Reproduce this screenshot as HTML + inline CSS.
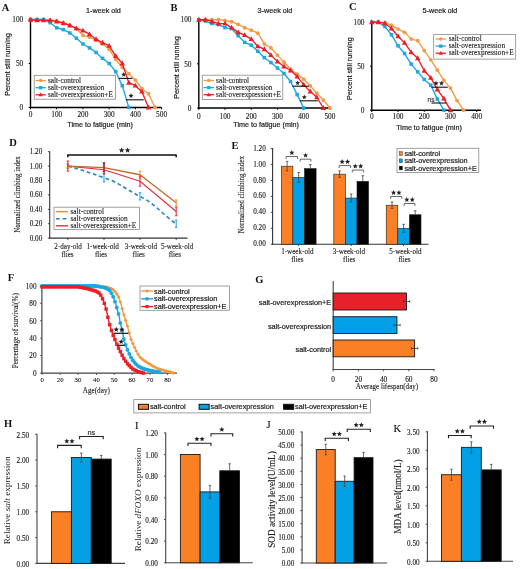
<!DOCTYPE html>
<html><head><meta charset="utf-8"><title>Figure</title>
<style>
html,body{margin:0;padding:0;background:#fff;}
body{width:520px;height:569px;overflow:hidden;font-family:"Liberation Sans", sans-serif;}
svg{display:block;filter:blur(0.35px);}

</style></head>
<body>
<svg width="520" height="569" viewBox="0 0 520 569">
<rect width="520" height="569" fill="#fff"/>
<text x="1.80" y="7.20" font-size="10.50" font-family='"Liberation Serif", serif' text-anchor="start" dominant-baseline="central" font-weight="bold" fill="#111">A</text>
<line x1="30.50" y1="18.00" x2="30.50" y2="108.10" stroke="#000" stroke-width="1.4"/>
<line x1="29.90" y1="107.50" x2="161.50" y2="107.50" stroke="#000" stroke-width="1.4"/>
<line x1="30.50" y1="107.50" x2="30.50" y2="109.30" stroke="#000" stroke-width="1"/>
<text x="30.50" y="114.20" font-size="7.30" font-family='"Liberation Serif", serif' text-anchor="middle" dominant-baseline="central" font-weight="normal" fill="#1a1a1a" stroke="#1a1a1a" stroke-width="0.12">0</text>
<line x1="56.72" y1="107.50" x2="56.72" y2="109.30" stroke="#000" stroke-width="1"/>
<text x="56.72" y="114.20" font-size="7.30" font-family='"Liberation Serif", serif' text-anchor="middle" dominant-baseline="central" font-weight="normal" fill="#1a1a1a" stroke="#1a1a1a" stroke-width="0.12">100</text>
<line x1="82.94" y1="107.50" x2="82.94" y2="109.30" stroke="#000" stroke-width="1"/>
<text x="82.94" y="114.20" font-size="7.30" font-family='"Liberation Serif", serif' text-anchor="middle" dominant-baseline="central" font-weight="normal" fill="#1a1a1a" stroke="#1a1a1a" stroke-width="0.12">200</text>
<line x1="109.16" y1="107.50" x2="109.16" y2="109.30" stroke="#000" stroke-width="1"/>
<text x="109.16" y="114.20" font-size="7.30" font-family='"Liberation Serif", serif' text-anchor="middle" dominant-baseline="central" font-weight="normal" fill="#1a1a1a" stroke="#1a1a1a" stroke-width="0.12">300</text>
<line x1="135.38" y1="107.50" x2="135.38" y2="109.30" stroke="#000" stroke-width="1"/>
<text x="135.38" y="114.20" font-size="7.30" font-family='"Liberation Serif", serif' text-anchor="middle" dominant-baseline="central" font-weight="normal" fill="#1a1a1a" stroke="#1a1a1a" stroke-width="0.12">400</text>
<line x1="161.60" y1="107.50" x2="161.60" y2="109.30" stroke="#000" stroke-width="1"/>
<text x="161.60" y="114.20" font-size="7.30" font-family='"Liberation Serif", serif' text-anchor="middle" dominant-baseline="central" font-weight="normal" fill="#1a1a1a" stroke="#1a1a1a" stroke-width="0.12">500</text>
<line x1="28.70" y1="107.50" x2="30.50" y2="107.50" stroke="#000" stroke-width="1"/>
<text x="23.20" y="107.75" font-size="7.30" font-family='"Liberation Serif", serif' text-anchor="end" dominant-baseline="central" font-weight="normal" fill="#1a1a1a" stroke="#1a1a1a" stroke-width="0.12">0</text>
<line x1="28.70" y1="63.50" x2="30.50" y2="63.50" stroke="#000" stroke-width="1"/>
<text x="23.20" y="63.75" font-size="7.30" font-family='"Liberation Serif", serif' text-anchor="end" dominant-baseline="central" font-weight="normal" fill="#1a1a1a" stroke="#1a1a1a" stroke-width="0.12">50</text>
<line x1="28.70" y1="19.50" x2="30.50" y2="19.50" stroke="#000" stroke-width="1"/>
<text x="23.20" y="19.75" font-size="7.30" font-family='"Liberation Serif", serif' text-anchor="end" dominant-baseline="central" font-weight="normal" fill="#1a1a1a" stroke="#1a1a1a" stroke-width="0.12">100</text>
<polyline points="30.50,19.50 37.05,19.50 43.61,19.50 50.16,19.94 56.72,20.82 63.27,22.58 69.83,25.22 76.38,28.74 82.94,35.34 89.50,37.10 96.05,40.27 102.60,43.88 109.16,49.33 115.72,59.36 122.27,67.46 128.82,73.62 135.38,80.22 141.94,88.67 148.49,93.77 155.04,107.50" fill="none" stroke="#f39a45" stroke-width="1.35" stroke-linejoin="round"/>
<circle cx="30.50" cy="19.50" r="1.9" fill="#f39a45"/>
<circle cx="37.05" cy="19.50" r="1.9" fill="#f39a45"/>
<circle cx="43.61" cy="19.50" r="1.9" fill="#f39a45"/>
<circle cx="50.16" cy="19.94" r="1.9" fill="#f39a45"/>
<circle cx="56.72" cy="20.82" r="1.9" fill="#f39a45"/>
<circle cx="63.27" cy="22.58" r="1.9" fill="#f39a45"/>
<circle cx="69.83" cy="25.22" r="1.9" fill="#f39a45"/>
<circle cx="76.38" cy="28.74" r="1.9" fill="#f39a45"/>
<circle cx="82.94" cy="35.34" r="1.9" fill="#f39a45"/>
<circle cx="89.50" cy="37.10" r="1.9" fill="#f39a45"/>
<circle cx="96.05" cy="40.27" r="1.9" fill="#f39a45"/>
<circle cx="102.60" cy="43.88" r="1.9" fill="#f39a45"/>
<circle cx="109.16" cy="49.33" r="1.9" fill="#f39a45"/>
<circle cx="115.72" cy="59.36" r="1.9" fill="#f39a45"/>
<circle cx="122.27" cy="67.46" r="1.9" fill="#f39a45"/>
<circle cx="128.82" cy="73.62" r="1.9" fill="#f39a45"/>
<circle cx="135.38" cy="80.22" r="1.9" fill="#f39a45"/>
<circle cx="141.94" cy="88.67" r="1.9" fill="#f39a45"/>
<circle cx="148.49" cy="93.77" r="1.9" fill="#f39a45"/>
<circle cx="155.04" cy="107.50" r="1.9" fill="#f39a45"/>
<polyline points="30.50,19.50 37.05,19.50 43.61,19.50 50.16,22.67 56.72,27.77 63.27,29.62 69.83,32.96 76.38,38.20 82.94,43.96 89.50,47.92 96.05,52.41 102.60,58.40 109.16,63.50 115.72,71.60 122.27,85.68 128.82,107.50" fill="none" stroke="#1aa7e2" stroke-width="1.35" stroke-linejoin="round"/>
<rect x="28.75" y="17.75" width="3.5" height="3.5" fill="#1aa7e2"/>
<rect x="35.30" y="17.75" width="3.5" height="3.5" fill="#1aa7e2"/>
<rect x="41.86" y="17.75" width="3.5" height="3.5" fill="#1aa7e2"/>
<rect x="48.41" y="20.92" width="3.5" height="3.5" fill="#1aa7e2"/>
<rect x="54.97" y="26.02" width="3.5" height="3.5" fill="#1aa7e2"/>
<rect x="61.52" y="27.87" width="3.5" height="3.5" fill="#1aa7e2"/>
<rect x="68.08" y="31.21" width="3.5" height="3.5" fill="#1aa7e2"/>
<rect x="74.63" y="36.45" width="3.5" height="3.5" fill="#1aa7e2"/>
<rect x="81.19" y="42.21" width="3.5" height="3.5" fill="#1aa7e2"/>
<rect x="87.75" y="46.17" width="3.5" height="3.5" fill="#1aa7e2"/>
<rect x="94.30" y="50.66" width="3.5" height="3.5" fill="#1aa7e2"/>
<rect x="100.85" y="56.65" width="3.5" height="3.5" fill="#1aa7e2"/>
<rect x="107.41" y="61.75" width="3.5" height="3.5" fill="#1aa7e2"/>
<rect x="113.97" y="69.85" width="3.5" height="3.5" fill="#1aa7e2"/>
<rect x="120.52" y="83.93" width="3.5" height="3.5" fill="#1aa7e2"/>
<rect x="127.07" y="105.75" width="3.5" height="3.5" fill="#1aa7e2"/>
<polyline points="30.50,19.76 37.05,20.38 43.61,20.38 50.16,20.38 56.72,21.52 63.27,23.20 69.83,25.48 76.38,28.39 82.94,30.68 89.50,34.20 96.05,39.21 102.60,42.73 109.16,45.90 115.72,56.02 122.27,63.50 128.82,82.68 135.38,85.68 141.94,91.66 148.49,107.50" fill="none" stroke="#ee1c24" stroke-width="1.35" stroke-linejoin="round"/>
<polygon points="30.50,16.85 27.80,21.71 33.20,21.71" fill="#ee1c24"/>
<polygon points="37.05,17.46 34.35,22.32 39.76,22.32" fill="#ee1c24"/>
<polygon points="43.61,17.46 40.91,22.32 46.31,22.32" fill="#ee1c24"/>
<polygon points="50.16,17.46 47.46,22.32 52.87,22.32" fill="#ee1c24"/>
<polygon points="56.72,18.61 54.02,23.47 59.42,23.47" fill="#ee1c24"/>
<polygon points="63.27,20.28 60.57,25.14 65.97,25.14" fill="#ee1c24"/>
<polygon points="69.83,22.57 67.13,27.43 72.53,27.43" fill="#ee1c24"/>
<polygon points="76.38,25.47 73.68,30.33 79.08,30.33" fill="#ee1c24"/>
<polygon points="82.94,27.76 80.24,32.62 85.64,32.62" fill="#ee1c24"/>
<polygon points="89.50,31.28 86.80,36.14 92.20,36.14" fill="#ee1c24"/>
<polygon points="96.05,36.30 93.35,41.16 98.75,41.16" fill="#ee1c24"/>
<polygon points="102.60,39.82 99.90,44.68 105.30,44.68" fill="#ee1c24"/>
<polygon points="109.16,42.98 106.46,47.84 111.86,47.84" fill="#ee1c24"/>
<polygon points="115.72,53.10 113.02,57.96 118.42,57.96" fill="#ee1c24"/>
<polygon points="122.27,60.58 119.57,65.44 124.97,65.44" fill="#ee1c24"/>
<polygon points="128.82,79.77 126.12,84.63 131.52,84.63" fill="#ee1c24"/>
<polygon points="135.38,82.76 132.68,87.62 138.08,87.62" fill="#ee1c24"/>
<polygon points="141.94,88.74 139.24,93.60 144.63,93.60" fill="#ee1c24"/>
<polygon points="148.49,104.58 145.79,109.44 151.19,109.44" fill="#ee1c24"/>
<text x="103.50" y="10.50" font-size="7.20" font-family='"Liberation Sans", sans-serif' text-anchor="middle" dominant-baseline="central" font-weight="normal" fill="#222" stroke="#222" stroke-width="0.2">1-week old</text>
<text x="7.60" y="64.50" font-size="7.15" font-family='"Liberation Sans", sans-serif' text-anchor="middle" dominant-baseline="central" font-weight="normal" fill="#222" stroke="#222" stroke-width="0.2" transform="rotate(-90 7.6 64.5)">Percent still running</text>
<text x="100.10" y="124.00" font-size="7.20" font-family='"Liberation Sans", sans-serif' text-anchor="middle" dominant-baseline="central" font-weight="normal" fill="#222" stroke="#222" stroke-width="0.2">Time to fatigue (min)</text>
<rect x="34.20" y="75.30" width="81.40" height="23.90" fill="#fff" stroke="#8a8a8a" stroke-width="0.8"/>
<line x1="35.50" y1="80.60" x2="45.90" y2="80.60" stroke="#f39a45" stroke-width="1.3"/>
<circle cx="40.70" cy="80.60" r="1.75" fill="#f39a45"/>
<text x="48.00" y="80.60" font-size="7.25" font-family='"Liberation Serif", serif' text-anchor="start" dominant-baseline="central" font-weight="normal" fill="#222" stroke="#222" stroke-width="0.12">salt-control</text>
<line x1="35.50" y1="87.70" x2="45.90" y2="87.70" stroke="#1aa7e2" stroke-width="1.3"/>
<rect x="39.05" y="86.05" width="3.3" height="3.3" fill="#1aa7e2"/>
<text x="48.00" y="87.70" font-size="7.25" font-family='"Liberation Serif", serif' text-anchor="start" dominant-baseline="central" font-weight="normal" fill="#222" stroke="#222" stroke-width="0.12">salt-overexpression</text>
<line x1="35.50" y1="94.80" x2="45.90" y2="94.80" stroke="#ee1c24" stroke-width="1.3"/>
<polygon points="40.70,92.48 38.55,96.35 42.85,96.35" fill="#ee1c24"/>
<text x="48.00" y="94.80" font-size="7.25" font-family='"Liberation Serif", serif' text-anchor="start" dominant-baseline="central" font-weight="normal" fill="#222" stroke="#222" stroke-width="0.12">salt-overexpression+E</text>
<line x1="118.60" y1="78.40" x2="132.40" y2="78.40" stroke="#111" stroke-width="1.1"/>
<polygon points="123.70,72.00 124.39,73.65 126.17,73.80 124.81,74.96 125.23,76.70 123.70,75.77 122.17,76.70 122.59,74.96 121.23,73.80 123.01,73.65" fill="#222"/>
<line x1="126.00" y1="99.80" x2="143.70" y2="99.80" stroke="#111" stroke-width="1.1"/>
<polygon points="131.00,93.20 131.69,94.85 133.47,95.00 132.11,96.16 132.53,97.90 131.00,96.97 129.47,97.90 129.89,96.16 128.53,95.00 130.31,94.85" fill="#222"/>
<text x="170.50" y="7.50" font-size="10.50" font-family='"Liberation Serif", serif' text-anchor="start" dominant-baseline="central" font-weight="bold" fill="#111">B</text>
<line x1="198.80" y1="18.20" x2="198.80" y2="108.60" stroke="#000" stroke-width="1.4"/>
<line x1="198.20" y1="108.00" x2="330.00" y2="108.00" stroke="#000" stroke-width="1.4"/>
<line x1="198.80" y1="108.00" x2="198.80" y2="109.80" stroke="#000" stroke-width="1"/>
<text x="198.80" y="116.00" font-size="7.30" font-family='"Liberation Serif", serif' text-anchor="middle" dominant-baseline="central" font-weight="normal" fill="#1a1a1a" stroke="#1a1a1a" stroke-width="0.12">0</text>
<line x1="225.02" y1="108.00" x2="225.02" y2="109.80" stroke="#000" stroke-width="1"/>
<text x="225.02" y="116.00" font-size="7.30" font-family='"Liberation Serif", serif' text-anchor="middle" dominant-baseline="central" font-weight="normal" fill="#1a1a1a" stroke="#1a1a1a" stroke-width="0.12">100</text>
<line x1="251.24" y1="108.00" x2="251.24" y2="109.80" stroke="#000" stroke-width="1"/>
<text x="251.24" y="116.00" font-size="7.30" font-family='"Liberation Serif", serif' text-anchor="middle" dominant-baseline="central" font-weight="normal" fill="#1a1a1a" stroke="#1a1a1a" stroke-width="0.12">200</text>
<line x1="277.46" y1="108.00" x2="277.46" y2="109.80" stroke="#000" stroke-width="1"/>
<text x="277.46" y="116.00" font-size="7.30" font-family='"Liberation Serif", serif' text-anchor="middle" dominant-baseline="central" font-weight="normal" fill="#1a1a1a" stroke="#1a1a1a" stroke-width="0.12">300</text>
<line x1="303.68" y1="108.00" x2="303.68" y2="109.80" stroke="#000" stroke-width="1"/>
<text x="303.68" y="116.00" font-size="7.30" font-family='"Liberation Serif", serif' text-anchor="middle" dominant-baseline="central" font-weight="normal" fill="#1a1a1a" stroke="#1a1a1a" stroke-width="0.12">400</text>
<line x1="329.90" y1="108.00" x2="329.90" y2="109.80" stroke="#000" stroke-width="1"/>
<text x="329.90" y="116.00" font-size="7.30" font-family='"Liberation Serif", serif' text-anchor="middle" dominant-baseline="central" font-weight="normal" fill="#1a1a1a" stroke="#1a1a1a" stroke-width="0.12">500</text>
<line x1="197.00" y1="108.00" x2="198.80" y2="108.00" stroke="#000" stroke-width="1"/>
<text x="191.50" y="108.25" font-size="7.30" font-family='"Liberation Serif", serif' text-anchor="end" dominant-baseline="central" font-weight="normal" fill="#1a1a1a" stroke="#1a1a1a" stroke-width="0.12">0</text>
<line x1="197.00" y1="63.85" x2="198.80" y2="63.85" stroke="#000" stroke-width="1"/>
<text x="191.50" y="64.10" font-size="7.30" font-family='"Liberation Serif", serif' text-anchor="end" dominant-baseline="central" font-weight="normal" fill="#1a1a1a" stroke="#1a1a1a" stroke-width="0.12">50</text>
<line x1="197.00" y1="19.70" x2="198.80" y2="19.70" stroke="#000" stroke-width="1"/>
<text x="191.50" y="19.95" font-size="7.30" font-family='"Liberation Serif", serif' text-anchor="end" dominant-baseline="central" font-weight="normal" fill="#1a1a1a" stroke="#1a1a1a" stroke-width="0.12">100</text>
<polyline points="198.80,19.70 205.36,19.70 211.91,19.70 218.47,19.70 225.02,20.49 231.58,21.73 238.13,24.47 244.69,27.74 251.24,30.21 257.80,33.21 264.35,43.89 270.90,47.96 277.46,55.11 284.01,62.26 290.57,69.24 297.12,74.18 303.68,79.21 310.24,85.84 316.79,93.08 323.35,100.05 329.90,108.00" fill="none" stroke="#f39a45" stroke-width="1.35" stroke-linejoin="round"/>
<circle cx="198.80" cy="19.70" r="1.9" fill="#f39a45"/>
<circle cx="205.36" cy="19.70" r="1.9" fill="#f39a45"/>
<circle cx="211.91" cy="19.70" r="1.9" fill="#f39a45"/>
<circle cx="218.47" cy="19.70" r="1.9" fill="#f39a45"/>
<circle cx="225.02" cy="20.49" r="1.9" fill="#f39a45"/>
<circle cx="231.58" cy="21.73" r="1.9" fill="#f39a45"/>
<circle cx="238.13" cy="24.47" r="1.9" fill="#f39a45"/>
<circle cx="244.69" cy="27.74" r="1.9" fill="#f39a45"/>
<circle cx="251.24" cy="30.21" r="1.9" fill="#f39a45"/>
<circle cx="257.80" cy="33.21" r="1.9" fill="#f39a45"/>
<circle cx="264.35" cy="43.89" r="1.9" fill="#f39a45"/>
<circle cx="270.90" cy="47.96" r="1.9" fill="#f39a45"/>
<circle cx="277.46" cy="55.11" r="1.9" fill="#f39a45"/>
<circle cx="284.01" cy="62.26" r="1.9" fill="#f39a45"/>
<circle cx="290.57" cy="69.24" r="1.9" fill="#f39a45"/>
<circle cx="297.12" cy="74.18" r="1.9" fill="#f39a45"/>
<circle cx="303.68" cy="79.21" r="1.9" fill="#f39a45"/>
<circle cx="310.24" cy="85.84" r="1.9" fill="#f39a45"/>
<circle cx="316.79" cy="93.08" r="1.9" fill="#f39a45"/>
<circle cx="323.35" cy="100.05" r="1.9" fill="#f39a45"/>
<circle cx="329.90" cy="108.00" r="1.9" fill="#f39a45"/>
<polyline points="198.80,19.70 205.36,21.11 211.91,23.59 218.47,24.56 225.02,27.65 231.58,28.62 238.13,35.68 244.69,42.39 251.24,45.22 257.80,51.31 264.35,57.67 270.90,62.53 277.46,68.00 284.01,73.47 290.57,81.51 297.12,94.58 303.68,108.00" fill="none" stroke="#1aa7e2" stroke-width="1.35" stroke-linejoin="round"/>
<rect x="197.05" y="17.95" width="3.5" height="3.5" fill="#1aa7e2"/>
<rect x="203.61" y="19.36" width="3.5" height="3.5" fill="#1aa7e2"/>
<rect x="210.16" y="21.84" width="3.5" height="3.5" fill="#1aa7e2"/>
<rect x="216.72" y="22.81" width="3.5" height="3.5" fill="#1aa7e2"/>
<rect x="223.27" y="25.90" width="3.5" height="3.5" fill="#1aa7e2"/>
<rect x="229.83" y="26.87" width="3.5" height="3.5" fill="#1aa7e2"/>
<rect x="236.38" y="33.93" width="3.5" height="3.5" fill="#1aa7e2"/>
<rect x="242.94" y="40.64" width="3.5" height="3.5" fill="#1aa7e2"/>
<rect x="249.49" y="43.47" width="3.5" height="3.5" fill="#1aa7e2"/>
<rect x="256.05" y="49.56" width="3.5" height="3.5" fill="#1aa7e2"/>
<rect x="262.60" y="55.92" width="3.5" height="3.5" fill="#1aa7e2"/>
<rect x="269.15" y="60.78" width="3.5" height="3.5" fill="#1aa7e2"/>
<rect x="275.71" y="66.25" width="3.5" height="3.5" fill="#1aa7e2"/>
<rect x="282.26" y="71.72" width="3.5" height="3.5" fill="#1aa7e2"/>
<rect x="288.82" y="79.76" width="3.5" height="3.5" fill="#1aa7e2"/>
<rect x="295.38" y="92.83" width="3.5" height="3.5" fill="#1aa7e2"/>
<rect x="301.93" y="106.25" width="3.5" height="3.5" fill="#1aa7e2"/>
<polyline points="198.80,19.70 205.36,19.70 211.91,21.47 218.47,23.59 225.02,23.59 231.58,27.65 238.13,32.33 244.69,35.06 251.24,39.13 257.80,46.37 264.35,49.19 270.90,55.11 277.46,61.47 284.01,66.50 290.57,70.47 297.12,76.57 303.68,84.60 310.24,91.49 316.79,97.23 323.35,108.00" fill="none" stroke="#ee1c24" stroke-width="1.35" stroke-linejoin="round"/>
<polygon points="198.80,16.78 196.10,21.64 201.50,21.64" fill="#ee1c24"/>
<polygon points="205.36,16.78 202.66,21.64 208.06,21.64" fill="#ee1c24"/>
<polygon points="211.91,18.55 209.21,23.41 214.61,23.41" fill="#ee1c24"/>
<polygon points="218.47,20.67 215.77,25.53 221.16,25.53" fill="#ee1c24"/>
<polygon points="225.02,20.67 222.32,25.53 227.72,25.53" fill="#ee1c24"/>
<polygon points="231.58,24.73 228.88,29.59 234.28,29.59" fill="#ee1c24"/>
<polygon points="238.13,29.41 235.43,34.27 240.83,34.27" fill="#ee1c24"/>
<polygon points="244.69,32.15 241.99,37.01 247.38,37.01" fill="#ee1c24"/>
<polygon points="251.24,36.21 248.54,41.07 253.94,41.07" fill="#ee1c24"/>
<polygon points="257.80,43.45 255.10,48.31 260.50,48.31" fill="#ee1c24"/>
<polygon points="264.35,46.28 261.65,51.14 267.05,51.14" fill="#ee1c24"/>
<polygon points="270.90,52.19 268.20,57.05 273.60,57.05" fill="#ee1c24"/>
<polygon points="277.46,58.55 274.76,63.41 280.16,63.41" fill="#ee1c24"/>
<polygon points="284.01,63.58 281.31,68.44 286.71,68.44" fill="#ee1c24"/>
<polygon points="290.57,67.56 287.87,72.42 293.27,72.42" fill="#ee1c24"/>
<polygon points="297.12,73.65 294.43,78.51 299.82,78.51" fill="#ee1c24"/>
<polygon points="303.68,81.68 300.98,86.54 306.38,86.54" fill="#ee1c24"/>
<polygon points="310.24,88.57 307.54,93.43 312.94,93.43" fill="#ee1c24"/>
<polygon points="316.79,94.31 314.09,99.17 319.49,99.17" fill="#ee1c24"/>
<polygon points="323.35,105.08 320.65,109.94 326.05,109.94" fill="#ee1c24"/>
<text x="275.00" y="10.50" font-size="7.20" font-family='"Liberation Sans", sans-serif' text-anchor="middle" dominant-baseline="central" font-weight="normal" fill="#222" stroke="#222" stroke-width="0.2">3-week old</text>
<text x="176.60" y="67.40" font-size="7.15" font-family='"Liberation Sans", sans-serif' text-anchor="middle" dominant-baseline="central" font-weight="normal" fill="#222" stroke="#222" stroke-width="0.2" transform="rotate(-90 176.6 67.4)">Percent still running</text>
<text x="266.10" y="124.80" font-size="7.20" font-family='"Liberation Sans", sans-serif' text-anchor="middle" dominant-baseline="central" font-weight="normal" fill="#222" stroke="#222" stroke-width="0.2">Time to fatigue (min)</text>
<rect x="202.30" y="75.20" width="80.50" height="24.20" fill="#fff" stroke="#8a8a8a" stroke-width="0.8"/>
<line x1="203.60" y1="80.50" x2="214.00" y2="80.50" stroke="#f39a45" stroke-width="1.3"/>
<circle cx="208.80" cy="80.50" r="1.75" fill="#f39a45"/>
<text x="216.10" y="80.50" font-size="7.25" font-family='"Liberation Serif", serif' text-anchor="start" dominant-baseline="central" font-weight="normal" fill="#222" stroke="#222" stroke-width="0.12">salt-control</text>
<line x1="203.60" y1="87.60" x2="214.00" y2="87.60" stroke="#1aa7e2" stroke-width="1.3"/>
<rect x="207.15" y="85.95" width="3.3" height="3.3" fill="#1aa7e2"/>
<text x="216.10" y="87.60" font-size="7.25" font-family='"Liberation Serif", serif' text-anchor="start" dominant-baseline="central" font-weight="normal" fill="#222" stroke="#222" stroke-width="0.12">salt-overexpression</text>
<line x1="203.60" y1="94.70" x2="214.00" y2="94.70" stroke="#ee1c24" stroke-width="1.3"/>
<polygon points="208.80,92.38 206.65,96.25 210.95,96.25" fill="#ee1c24"/>
<text x="216.10" y="94.70" font-size="7.25" font-family='"Liberation Serif", serif' text-anchor="start" dominant-baseline="central" font-weight="normal" fill="#222" stroke="#222" stroke-width="0.12">salt-overexpression+E</text>
<line x1="292.30" y1="86.20" x2="309.00" y2="86.20" stroke="#111" stroke-width="1.1"/>
<polygon points="297.70,80.40 298.39,82.05 300.17,82.20 298.81,83.36 299.23,85.10 297.70,84.17 296.17,85.10 296.59,83.36 295.23,82.20 297.01,82.05" fill="#222"/>
<line x1="300.00" y1="100.80" x2="317.70" y2="100.80" stroke="#111" stroke-width="1.1"/>
<polygon points="304.30,94.60 304.99,96.25 306.77,96.40 305.41,97.56 305.83,99.30 304.30,98.37 302.77,99.30 303.19,97.56 301.83,96.40 303.61,96.25" fill="#222"/>
<text x="349.00" y="6.50" font-size="10.50" font-family='"Liberation Serif", serif' text-anchor="start" dominant-baseline="central" font-weight="bold" fill="#111">C</text>
<line x1="371.80" y1="20.70" x2="371.80" y2="110.80" stroke="#000" stroke-width="1.4"/>
<line x1="371.20" y1="110.20" x2="481.00" y2="110.20" stroke="#000" stroke-width="1.4"/>
<line x1="371.80" y1="110.20" x2="371.80" y2="112.00" stroke="#000" stroke-width="1"/>
<text x="371.80" y="116.90" font-size="7.30" font-family='"Liberation Serif", serif' text-anchor="middle" dominant-baseline="central" font-weight="normal" fill="#1a1a1a" stroke="#1a1a1a" stroke-width="0.12">0</text>
<line x1="398.02" y1="110.20" x2="398.02" y2="112.00" stroke="#000" stroke-width="1"/>
<text x="398.02" y="116.90" font-size="7.30" font-family='"Liberation Serif", serif' text-anchor="middle" dominant-baseline="central" font-weight="normal" fill="#1a1a1a" stroke="#1a1a1a" stroke-width="0.12">100</text>
<line x1="424.24" y1="110.20" x2="424.24" y2="112.00" stroke="#000" stroke-width="1"/>
<text x="424.24" y="116.90" font-size="7.30" font-family='"Liberation Serif", serif' text-anchor="middle" dominant-baseline="central" font-weight="normal" fill="#1a1a1a" stroke="#1a1a1a" stroke-width="0.12">200</text>
<line x1="450.46" y1="110.20" x2="450.46" y2="112.00" stroke="#000" stroke-width="1"/>
<text x="450.46" y="116.90" font-size="7.30" font-family='"Liberation Serif", serif' text-anchor="middle" dominant-baseline="central" font-weight="normal" fill="#1a1a1a" stroke="#1a1a1a" stroke-width="0.12">300</text>
<line x1="476.68" y1="110.20" x2="476.68" y2="112.00" stroke="#000" stroke-width="1"/>
<text x="476.68" y="116.90" font-size="7.30" font-family='"Liberation Serif", serif' text-anchor="middle" dominant-baseline="central" font-weight="normal" fill="#1a1a1a" stroke="#1a1a1a" stroke-width="0.12">400</text>
<line x1="370.00" y1="110.20" x2="371.80" y2="110.20" stroke="#000" stroke-width="1"/>
<text x="364.50" y="110.45" font-size="7.30" font-family='"Liberation Serif", serif' text-anchor="end" dominant-baseline="central" font-weight="normal" fill="#1a1a1a" stroke="#1a1a1a" stroke-width="0.12">0</text>
<line x1="370.00" y1="66.20" x2="371.80" y2="66.20" stroke="#000" stroke-width="1"/>
<text x="364.50" y="66.45" font-size="7.30" font-family='"Liberation Serif", serif' text-anchor="end" dominant-baseline="central" font-weight="normal" fill="#1a1a1a" stroke="#1a1a1a" stroke-width="0.12">50</text>
<line x1="370.00" y1="22.20" x2="371.80" y2="22.20" stroke="#000" stroke-width="1"/>
<text x="364.50" y="22.45" font-size="7.30" font-family='"Liberation Serif", serif' text-anchor="end" dominant-baseline="central" font-weight="normal" fill="#1a1a1a" stroke="#1a1a1a" stroke-width="0.12">100</text>
<polyline points="371.80,22.20 378.36,22.20 384.91,22.73 391.47,25.19 398.02,29.06 404.57,32.32 411.13,39.10 417.69,40.59 424.24,50.62 430.80,59.78 437.35,70.16 443.90,80.37 450.46,88.11 457.01,100.61 463.57,110.20" fill="none" stroke="#f39a45" stroke-width="1.35" stroke-linejoin="round"/>
<circle cx="371.80" cy="22.20" r="1.9" fill="#f39a45"/>
<circle cx="378.36" cy="22.20" r="1.9" fill="#f39a45"/>
<circle cx="384.91" cy="22.73" r="1.9" fill="#f39a45"/>
<circle cx="391.47" cy="25.19" r="1.9" fill="#f39a45"/>
<circle cx="398.02" cy="29.06" r="1.9" fill="#f39a45"/>
<circle cx="404.57" cy="32.32" r="1.9" fill="#f39a45"/>
<circle cx="411.13" cy="39.10" r="1.9" fill="#f39a45"/>
<circle cx="417.69" cy="40.59" r="1.9" fill="#f39a45"/>
<circle cx="424.24" cy="50.62" r="1.9" fill="#f39a45"/>
<circle cx="430.80" cy="59.78" r="1.9" fill="#f39a45"/>
<circle cx="437.35" cy="70.16" r="1.9" fill="#f39a45"/>
<circle cx="443.90" cy="80.37" r="1.9" fill="#f39a45"/>
<circle cx="450.46" cy="88.11" r="1.9" fill="#f39a45"/>
<circle cx="457.01" cy="100.61" r="1.9" fill="#f39a45"/>
<circle cx="463.57" cy="110.20" r="1.9" fill="#f39a45"/>
<polyline points="371.80,22.20 378.36,22.20 384.91,26.60 391.47,34.78 398.02,45.78 404.57,53.53 411.13,64.09 417.69,71.83 424.24,79.49 430.80,85.21 437.35,99.11 443.90,110.20" fill="none" stroke="#1aa7e2" stroke-width="1.35" stroke-linejoin="round"/>
<rect x="370.05" y="20.45" width="3.5" height="3.5" fill="#1aa7e2"/>
<rect x="376.61" y="20.45" width="3.5" height="3.5" fill="#1aa7e2"/>
<rect x="383.16" y="24.85" width="3.5" height="3.5" fill="#1aa7e2"/>
<rect x="389.72" y="33.03" width="3.5" height="3.5" fill="#1aa7e2"/>
<rect x="396.27" y="44.03" width="3.5" height="3.5" fill="#1aa7e2"/>
<rect x="402.82" y="51.78" width="3.5" height="3.5" fill="#1aa7e2"/>
<rect x="409.38" y="62.34" width="3.5" height="3.5" fill="#1aa7e2"/>
<rect x="415.94" y="70.08" width="3.5" height="3.5" fill="#1aa7e2"/>
<rect x="422.49" y="77.74" width="3.5" height="3.5" fill="#1aa7e2"/>
<rect x="429.05" y="83.46" width="3.5" height="3.5" fill="#1aa7e2"/>
<rect x="435.60" y="97.36" width="3.5" height="3.5" fill="#1aa7e2"/>
<rect x="442.15" y="108.45" width="3.5" height="3.5" fill="#1aa7e2"/>
<polyline points="371.80,22.20 378.36,22.20 384.91,23.26 391.47,28.54 398.02,36.19 404.57,42.88 411.13,52.21 417.69,58.28 424.24,70.78 430.80,77.90 437.35,89.52 443.90,98.67 450.46,110.20" fill="none" stroke="#ee1c24" stroke-width="1.35" stroke-linejoin="round"/>
<polygon points="371.80,19.28 369.10,24.14 374.50,24.14" fill="#ee1c24"/>
<polygon points="378.36,19.28 375.66,24.14 381.06,24.14" fill="#ee1c24"/>
<polygon points="384.91,20.34 382.21,25.20 387.61,25.20" fill="#ee1c24"/>
<polygon points="391.47,25.62 388.77,30.48 394.17,30.48" fill="#ee1c24"/>
<polygon points="398.02,33.28 395.32,38.14 400.72,38.14" fill="#ee1c24"/>
<polygon points="404.57,39.96 401.88,44.82 407.27,44.82" fill="#ee1c24"/>
<polygon points="411.13,49.29 408.43,54.15 413.83,54.15" fill="#ee1c24"/>
<polygon points="417.69,55.36 414.99,60.22 420.38,60.22" fill="#ee1c24"/>
<polygon points="424.24,67.86 421.54,72.72 426.94,72.72" fill="#ee1c24"/>
<polygon points="430.80,74.99 428.10,79.85 433.50,79.85" fill="#ee1c24"/>
<polygon points="437.35,86.60 434.65,91.46 440.05,91.46" fill="#ee1c24"/>
<polygon points="443.90,95.76 441.20,100.62 446.60,100.62" fill="#ee1c24"/>
<polygon points="450.46,107.28 447.76,112.14 453.16,112.14" fill="#ee1c24"/>
<text x="440.00" y="10.50" font-size="7.20" font-family='"Liberation Sans", sans-serif' text-anchor="middle" dominant-baseline="central" font-weight="normal" fill="#222" stroke="#222" stroke-width="0.2">5-week old</text>
<text x="350.00" y="68.70" font-size="7.15" font-family='"Liberation Sans", sans-serif' text-anchor="middle" dominant-baseline="central" font-weight="normal" fill="#222" stroke="#222" stroke-width="0.2" transform="rotate(-90 350 68.7)">Percent still running</text>
<text x="429.00" y="127.30" font-size="7.20" font-family='"Liberation Sans", sans-serif' text-anchor="middle" dominant-baseline="central" font-weight="normal" fill="#222" stroke="#222" stroke-width="0.2">Time to fatigue (min)</text>
<rect x="433.70" y="34.60" width="82.00" height="24.50" fill="#fff" stroke="#8a8a8a" stroke-width="0.8"/>
<line x1="435.60" y1="39.00" x2="446.00" y2="39.00" stroke="#f39a45" stroke-width="1.3"/>
<circle cx="440.80" cy="39.00" r="1.75" fill="#f39a45"/>
<text x="448.70" y="39.00" font-size="7.25" font-family='"Liberation Serif", serif' text-anchor="start" dominant-baseline="central" font-weight="normal" fill="#222" stroke="#222" stroke-width="0.12">salt-control</text>
<line x1="435.60" y1="46.10" x2="446.00" y2="46.10" stroke="#1aa7e2" stroke-width="1.3"/>
<rect x="439.15" y="44.45" width="3.3" height="3.3" fill="#1aa7e2"/>
<text x="448.70" y="46.10" font-size="7.25" font-family='"Liberation Serif", serif' text-anchor="start" dominant-baseline="central" font-weight="normal" fill="#222" stroke="#222" stroke-width="0.12">salt-overexpression</text>
<line x1="435.60" y1="53.20" x2="446.00" y2="53.20" stroke="#ee1c24" stroke-width="1.3"/>
<polygon points="440.80,50.88 438.65,54.75 442.95,54.75" fill="#ee1c24"/>
<text x="448.70" y="53.20" font-size="7.25" font-family='"Liberation Serif", serif' text-anchor="start" dominant-baseline="central" font-weight="normal" fill="#222" stroke="#222" stroke-width="0.12">salt-overexpression+E</text>
<line x1="431.50" y1="87.20" x2="447.80" y2="87.20" stroke="#111" stroke-width="1.1"/>
<polygon points="436.10,80.70 436.79,82.35 438.57,82.50 437.21,83.66 437.63,85.40 436.10,84.47 434.57,85.40 434.99,83.66 433.63,82.50 435.41,82.35" fill="#222"/>
<polygon points="441.50,80.70 442.19,82.35 443.97,82.50 442.61,83.66 443.03,85.40 441.50,84.47 439.97,85.40 440.39,83.66 439.03,82.50 440.81,82.35" fill="#222"/>
<line x1="431.50" y1="103.00" x2="446.00" y2="103.00" stroke="#111" stroke-width="1.1"/>
<text x="431.00" y="99.70" font-size="6.50" font-family='"Liberation Sans", sans-serif' text-anchor="middle" dominant-baseline="central" font-weight="normal" fill="#333" stroke="#333" stroke-width="0.2">ns</text>
<text x="9.30" y="142.50" font-size="10.50" font-family='"Liberation Serif", serif' text-anchor="start" dominant-baseline="central" font-weight="bold" fill="#111">D</text>
<line x1="49.70" y1="151.20" x2="49.70" y2="238.60" stroke="#333" stroke-width="1.1"/>
<line x1="49.20" y1="238.10" x2="187.50" y2="238.10" stroke="#333" stroke-width="1.1"/>
<line x1="47.90" y1="238.10" x2="49.70" y2="238.10" stroke="#333" stroke-width="0.9"/>
<text x="42.30" y="238.60" font-size="7.20" font-family='"Liberation Serif", serif' text-anchor="end" dominant-baseline="central" font-weight="normal" fill="#1a1a1a" stroke="#1a1a1a" stroke-width="0.12">0.00</text>
<line x1="47.90" y1="223.70" x2="49.70" y2="223.70" stroke="#333" stroke-width="0.9"/>
<text x="42.30" y="224.20" font-size="7.20" font-family='"Liberation Serif", serif' text-anchor="end" dominant-baseline="central" font-weight="normal" fill="#1a1a1a" stroke="#1a1a1a" stroke-width="0.12">0.20</text>
<line x1="47.90" y1="209.30" x2="49.70" y2="209.30" stroke="#333" stroke-width="0.9"/>
<text x="42.30" y="209.80" font-size="7.20" font-family='"Liberation Serif", serif' text-anchor="end" dominant-baseline="central" font-weight="normal" fill="#1a1a1a" stroke="#1a1a1a" stroke-width="0.12">0.40</text>
<line x1="47.90" y1="194.90" x2="49.70" y2="194.90" stroke="#333" stroke-width="0.9"/>
<text x="42.30" y="195.40" font-size="7.20" font-family='"Liberation Serif", serif' text-anchor="end" dominant-baseline="central" font-weight="normal" fill="#1a1a1a" stroke="#1a1a1a" stroke-width="0.12">0.60</text>
<line x1="47.90" y1="180.50" x2="49.70" y2="180.50" stroke="#333" stroke-width="0.9"/>
<text x="42.30" y="181.00" font-size="7.20" font-family='"Liberation Serif", serif' text-anchor="end" dominant-baseline="central" font-weight="normal" fill="#1a1a1a" stroke="#1a1a1a" stroke-width="0.12">0.80</text>
<line x1="47.90" y1="166.10" x2="49.70" y2="166.10" stroke="#333" stroke-width="0.9"/>
<text x="42.30" y="166.60" font-size="7.20" font-family='"Liberation Serif", serif' text-anchor="end" dominant-baseline="central" font-weight="normal" fill="#1a1a1a" stroke="#1a1a1a" stroke-width="0.12">1.00</text>
<line x1="47.90" y1="151.70" x2="49.70" y2="151.70" stroke="#333" stroke-width="0.9"/>
<text x="42.30" y="152.20" font-size="7.20" font-family='"Liberation Serif", serif' text-anchor="end" dominant-baseline="central" font-weight="normal" fill="#1a1a1a" stroke="#1a1a1a" stroke-width="0.12">1.20</text>
<line x1="67.80" y1="238.10" x2="67.80" y2="239.90" stroke="#333" stroke-width="0.9"/>
<text x="68.10" y="246.10" font-size="7.67" font-family='"Liberation Serif", serif' text-anchor="middle" dominant-baseline="central" font-weight="normal" fill="#222" stroke="#222" stroke-width="0.12" textLength="27.60" lengthAdjust="spacingAndGlyphs">2-day-old</text>
<text x="67.50" y="254.10" font-size="7.67" font-family='"Liberation Serif", serif' text-anchor="middle" dominant-baseline="central" font-weight="normal" fill="#222" stroke="#222" stroke-width="0.12" textLength="12.22" lengthAdjust="spacingAndGlyphs">flies</text>
<line x1="104.00" y1="238.10" x2="104.00" y2="239.90" stroke="#333" stroke-width="0.9"/>
<text x="102.70" y="246.10" font-size="7.67" font-family='"Liberation Serif", serif' text-anchor="middle" dominant-baseline="central" font-weight="normal" fill="#222" stroke="#222" stroke-width="0.12" textLength="32.33" lengthAdjust="spacingAndGlyphs">1-week-old</text>
<text x="101.00" y="254.10" font-size="7.67" font-family='"Liberation Serif", serif' text-anchor="middle" dominant-baseline="central" font-weight="normal" fill="#222" stroke="#222" stroke-width="0.12" textLength="12.22" lengthAdjust="spacingAndGlyphs">flies</text>
<line x1="140.00" y1="238.10" x2="140.00" y2="239.90" stroke="#333" stroke-width="0.9"/>
<text x="140.90" y="246.10" font-size="7.67" font-family='"Liberation Serif", serif' text-anchor="middle" dominant-baseline="central" font-weight="normal" fill="#222" stroke="#222" stroke-width="0.12" textLength="32.33" lengthAdjust="spacingAndGlyphs">3-week-old</text>
<text x="138.70" y="254.10" font-size="7.67" font-family='"Liberation Serif", serif' text-anchor="middle" dominant-baseline="central" font-weight="normal" fill="#222" stroke="#222" stroke-width="0.12" textLength="12.22" lengthAdjust="spacingAndGlyphs">flies</text>
<line x1="176.20" y1="238.10" x2="176.20" y2="239.90" stroke="#333" stroke-width="0.9"/>
<text x="177.10" y="246.10" font-size="7.67" font-family='"Liberation Serif", serif' text-anchor="middle" dominant-baseline="central" font-weight="normal" fill="#222" stroke="#222" stroke-width="0.12" textLength="32.33" lengthAdjust="spacingAndGlyphs">5-week-old</text>
<text x="174.80" y="254.10" font-size="7.67" font-family='"Liberation Serif", serif' text-anchor="middle" dominant-baseline="central" font-weight="normal" fill="#222" stroke="#222" stroke-width="0.12" textLength="12.22" lengthAdjust="spacingAndGlyphs">flies</text>
<text x="17.50" y="194.50" font-size="7.65" font-family='"Liberation Serif", serif' text-anchor="middle" dominant-baseline="central" font-weight="normal" fill="#222" stroke="#222" stroke-width="0.12" textLength="76.43" lengthAdjust="spacingAndGlyphs" transform="rotate(-90 17.5 194.5)">Normalized climbing index</text>
<path d="M67.8,166.1 C82.8,170.1 89,172.62 104,177.62 S124,188.34 140,196.34 S160.2,212.7 176.2,223.7" fill="none" stroke="#2585bd" stroke-width="1.6" stroke-dasharray="3.8,2.8"/>
<polyline points="67.80,166.10 104.00,169.70 140.00,181.22 176.20,211.46" fill="none" stroke="#e0303e" stroke-width="1.1" stroke-linejoin="round"/>
<polyline points="67.80,166.10 104.00,167.54 140.00,174.74 176.20,202.82" fill="none" stroke="#c06a28" stroke-width="1.3" stroke-linejoin="round"/>
<line x1="67.80" y1="163.94" x2="67.80" y2="168.26" stroke="#1a9ee0" stroke-width="1.0"/>
<line x1="66.60" y1="163.94" x2="69.00" y2="163.94" stroke="#1a9ee0" stroke-width="1.0"/>
<line x1="66.60" y1="168.26" x2="69.00" y2="168.26" stroke="#1a9ee0" stroke-width="1.0"/>
<line x1="104.00" y1="173.30" x2="104.00" y2="181.94" stroke="#1a9ee0" stroke-width="1.0"/>
<line x1="102.80" y1="173.30" x2="105.20" y2="173.30" stroke="#1a9ee0" stroke-width="1.0"/>
<line x1="102.80" y1="181.94" x2="105.20" y2="181.94" stroke="#1a9ee0" stroke-width="1.0"/>
<line x1="140.00" y1="192.74" x2="140.00" y2="199.94" stroke="#1a9ee0" stroke-width="1.0"/>
<line x1="138.80" y1="192.74" x2="141.20" y2="192.74" stroke="#1a9ee0" stroke-width="1.0"/>
<line x1="138.80" y1="199.94" x2="141.20" y2="199.94" stroke="#1a9ee0" stroke-width="1.0"/>
<line x1="176.20" y1="220.10" x2="176.20" y2="227.30" stroke="#1a9ee0" stroke-width="1.0"/>
<line x1="175.00" y1="220.10" x2="177.40" y2="220.10" stroke="#1a9ee0" stroke-width="1.0"/>
<line x1="175.00" y1="227.30" x2="177.40" y2="227.30" stroke="#1a9ee0" stroke-width="1.0"/>
<line x1="67.80" y1="163.94" x2="67.80" y2="168.26" stroke="#f0903a" stroke-width="1.0"/>
<line x1="66.60" y1="163.94" x2="69.00" y2="163.94" stroke="#f0903a" stroke-width="1.0"/>
<line x1="66.60" y1="168.26" x2="69.00" y2="168.26" stroke="#f0903a" stroke-width="1.0"/>
<line x1="104.00" y1="163.22" x2="104.00" y2="171.86" stroke="#f0903a" stroke-width="1.0"/>
<line x1="102.80" y1="163.22" x2="105.20" y2="163.22" stroke="#f0903a" stroke-width="1.0"/>
<line x1="102.80" y1="171.86" x2="105.20" y2="171.86" stroke="#f0903a" stroke-width="1.0"/>
<line x1="140.00" y1="171.14" x2="140.00" y2="178.34" stroke="#f0903a" stroke-width="1.0"/>
<line x1="138.80" y1="171.14" x2="141.20" y2="171.14" stroke="#f0903a" stroke-width="1.0"/>
<line x1="138.80" y1="178.34" x2="141.20" y2="178.34" stroke="#f0903a" stroke-width="1.0"/>
<line x1="176.20" y1="199.94" x2="176.20" y2="205.70" stroke="#f0903a" stroke-width="1.0"/>
<line x1="175.00" y1="199.94" x2="177.40" y2="199.94" stroke="#f0903a" stroke-width="1.0"/>
<line x1="175.00" y1="205.70" x2="177.40" y2="205.70" stroke="#f0903a" stroke-width="1.0"/>
<line x1="104.00" y1="162.86" x2="104.00" y2="171.50" stroke="#222" stroke-width="1.0"/>
<line x1="102.80" y1="162.86" x2="105.20" y2="162.86" stroke="#222" stroke-width="1.0"/>
<line x1="102.80" y1="171.50" x2="105.20" y2="171.50" stroke="#222" stroke-width="1.0"/>
<line x1="67.80" y1="161.06" x2="67.80" y2="171.14" stroke="#e8202e" stroke-width="1.0"/>
<line x1="66.60" y1="161.06" x2="69.00" y2="161.06" stroke="#e8202e" stroke-width="1.0"/>
<line x1="66.60" y1="171.14" x2="69.00" y2="171.14" stroke="#e8202e" stroke-width="1.0"/>
<line x1="104.00" y1="165.38" x2="104.00" y2="174.02" stroke="#e8202e" stroke-width="1.0"/>
<line x1="102.80" y1="165.38" x2="105.20" y2="165.38" stroke="#e8202e" stroke-width="1.0"/>
<line x1="102.80" y1="174.02" x2="105.20" y2="174.02" stroke="#e8202e" stroke-width="1.0"/>
<line x1="140.00" y1="176.18" x2="140.00" y2="186.26" stroke="#e8202e" stroke-width="1.0"/>
<line x1="138.80" y1="176.18" x2="141.20" y2="176.18" stroke="#e8202e" stroke-width="1.0"/>
<line x1="138.80" y1="186.26" x2="141.20" y2="186.26" stroke="#e8202e" stroke-width="1.0"/>
<line x1="176.20" y1="207.14" x2="176.20" y2="215.78" stroke="#e8202e" stroke-width="1.0"/>
<line x1="175.00" y1="207.14" x2="177.40" y2="207.14" stroke="#e8202e" stroke-width="1.0"/>
<line x1="175.00" y1="215.78" x2="177.40" y2="215.78" stroke="#e8202e" stroke-width="1.0"/>
<line x1="67.80" y1="155.10" x2="176.20" y2="155.10" stroke="#111" stroke-width="1.5"/>
<line x1="67.80" y1="154.40" x2="67.80" y2="157.30" stroke="#111" stroke-width="1.5"/>
<line x1="176.20" y1="154.40" x2="176.20" y2="157.30" stroke="#111" stroke-width="1.5"/>
<polygon points="121.60,147.40 122.37,149.24 124.36,149.40 122.84,150.70 123.30,152.65 121.60,151.61 119.90,152.65 120.36,150.70 118.84,149.40 120.83,149.24" fill="#222"/>
<polygon points="127.60,147.40 128.37,149.24 130.36,149.40 128.84,150.70 129.30,152.65 127.60,151.61 125.90,152.65 126.36,150.70 124.84,149.40 126.83,149.24" fill="#222"/>
<rect x="54.00" y="207.20" width="85.50" height="22.30" fill="#fff" stroke="#8a8a8a" stroke-width="0.8"/>
<line x1="56.00" y1="211.60" x2="68.00" y2="211.60" stroke="#f08a30" stroke-width="1.4"/>
<text x="70.50" y="211.60" font-size="7.35" font-family='"Liberation Serif", serif' text-anchor="start" dominant-baseline="central" font-weight="normal" fill="#222" stroke="#222" stroke-width="0.12">salt-control</text>
<line x1="56.00" y1="218.70" x2="68.00" y2="218.70" stroke="#2585bd" stroke-width="1.5" stroke-dasharray="3.8,2.8"/>
<text x="70.50" y="218.70" font-size="7.35" font-family='"Liberation Serif", serif' text-anchor="start" dominant-baseline="central" font-weight="normal" fill="#222" stroke="#222" stroke-width="0.12">salt-overexpression</text>
<line x1="56.00" y1="225.80" x2="68.00" y2="225.80" stroke="#e0303e" stroke-width="1.4"/>
<text x="70.50" y="225.80" font-size="7.35" font-family='"Liberation Serif", serif' text-anchor="start" dominant-baseline="central" font-weight="normal" fill="#222" stroke="#222" stroke-width="0.12">salt-overexpression+E</text>
<text x="231.50" y="145.50" font-size="10.50" font-family='"Liberation Serif", serif' text-anchor="start" dominant-baseline="central" font-weight="bold" fill="#111">E</text>
<line x1="272.60" y1="148.00" x2="272.60" y2="244.70" stroke="#333" stroke-width="1.1"/>
<line x1="272.10" y1="244.20" x2="428.50" y2="244.20" stroke="#333" stroke-width="1.1"/>
<line x1="270.80" y1="244.20" x2="272.60" y2="244.20" stroke="#333" stroke-width="0.9"/>
<text x="265.80" y="244.20" font-size="7.20" font-family='"Liberation Serif", serif' text-anchor="end" dominant-baseline="central" font-weight="normal" fill="#1a1a1a" stroke="#1a1a1a" stroke-width="0.12">0.00</text>
<line x1="270.80" y1="228.28" x2="272.60" y2="228.28" stroke="#333" stroke-width="0.9"/>
<text x="265.80" y="228.28" font-size="7.20" font-family='"Liberation Serif", serif' text-anchor="end" dominant-baseline="central" font-weight="normal" fill="#1a1a1a" stroke="#1a1a1a" stroke-width="0.12">0.20</text>
<line x1="270.80" y1="212.36" x2="272.60" y2="212.36" stroke="#333" stroke-width="0.9"/>
<text x="265.80" y="212.36" font-size="7.20" font-family='"Liberation Serif", serif' text-anchor="end" dominant-baseline="central" font-weight="normal" fill="#1a1a1a" stroke="#1a1a1a" stroke-width="0.12">0.40</text>
<line x1="270.80" y1="196.44" x2="272.60" y2="196.44" stroke="#333" stroke-width="0.9"/>
<text x="265.80" y="196.44" font-size="7.20" font-family='"Liberation Serif", serif' text-anchor="end" dominant-baseline="central" font-weight="normal" fill="#1a1a1a" stroke="#1a1a1a" stroke-width="0.12">0.60</text>
<line x1="270.80" y1="180.52" x2="272.60" y2="180.52" stroke="#333" stroke-width="0.9"/>
<text x="265.80" y="180.52" font-size="7.20" font-family='"Liberation Serif", serif' text-anchor="end" dominant-baseline="central" font-weight="normal" fill="#1a1a1a" stroke="#1a1a1a" stroke-width="0.12">0.80</text>
<line x1="270.80" y1="164.60" x2="272.60" y2="164.60" stroke="#333" stroke-width="0.9"/>
<text x="265.80" y="164.60" font-size="7.20" font-family='"Liberation Serif", serif' text-anchor="end" dominant-baseline="central" font-weight="normal" fill="#1a1a1a" stroke="#1a1a1a" stroke-width="0.12">1.00</text>
<line x1="270.80" y1="148.68" x2="272.60" y2="148.68" stroke="#333" stroke-width="0.9"/>
<text x="265.80" y="148.68" font-size="7.20" font-family='"Liberation Serif", serif' text-anchor="end" dominant-baseline="central" font-weight="normal" fill="#1a1a1a" stroke="#1a1a1a" stroke-width="0.12">1.20</text>
<text x="241.20" y="194.80" font-size="7.76" font-family='"Liberation Serif", serif' text-anchor="middle" dominant-baseline="central" font-weight="normal" fill="#222" stroke="#222" stroke-width="0.12" textLength="77.53" lengthAdjust="spacingAndGlyphs" transform="rotate(-90 241.2 194.8)">Normalized climbing index</text>
<rect x="281.30" y="166.19" width="11.60" height="78.01" fill="#fa7f25" stroke="#222" stroke-width="0.6"/>
<line x1="287.10" y1="161.42" x2="287.10" y2="170.97" stroke="#444" stroke-width="0.8"/>
<line x1="285.80" y1="161.42" x2="288.40" y2="161.42" stroke="#444" stroke-width="0.8"/>
<line x1="285.80" y1="170.97" x2="288.40" y2="170.97" stroke="#444" stroke-width="0.8"/>
<rect x="292.90" y="177.34" width="11.60" height="66.86" fill="#03a0e6" stroke="#222" stroke-width="0.6"/>
<line x1="298.70" y1="172.56" x2="298.70" y2="182.11" stroke="#444" stroke-width="0.8"/>
<line x1="297.40" y1="172.56" x2="300.00" y2="172.56" stroke="#444" stroke-width="0.8"/>
<line x1="297.40" y1="182.11" x2="300.00" y2="182.11" stroke="#444" stroke-width="0.8"/>
<rect x="304.50" y="168.58" width="11.60" height="75.62" fill="#000" stroke="#222" stroke-width="0.6"/>
<line x1="310.30" y1="164.60" x2="310.30" y2="168.58" stroke="#444" stroke-width="0.8"/>
<line x1="309.00" y1="164.60" x2="311.60" y2="164.60" stroke="#444" stroke-width="0.8"/>
<line x1="298.70" y1="244.20" x2="298.70" y2="246.00" stroke="#333" stroke-width="0.9"/>
<text x="297.30" y="251.50" font-size="7.67" font-family='"Liberation Serif", serif' text-anchor="middle" dominant-baseline="central" font-weight="normal" fill="#222" stroke="#222" stroke-width="0.12" textLength="32.33" lengthAdjust="spacingAndGlyphs">1-week-old</text>
<text x="297.30" y="259.20" font-size="7.67" font-family='"Liberation Serif", serif' text-anchor="middle" dominant-baseline="central" font-weight="normal" fill="#222" stroke="#222" stroke-width="0.12" textLength="12.22" lengthAdjust="spacingAndGlyphs">flies</text>
<rect x="333.80" y="174.15" width="11.60" height="70.05" fill="#fa7f25" stroke="#222" stroke-width="0.6"/>
<line x1="339.60" y1="170.97" x2="339.60" y2="177.34" stroke="#444" stroke-width="0.8"/>
<line x1="338.30" y1="170.97" x2="340.90" y2="170.97" stroke="#444" stroke-width="0.8"/>
<line x1="338.30" y1="177.34" x2="340.90" y2="177.34" stroke="#444" stroke-width="0.8"/>
<rect x="345.40" y="198.03" width="11.60" height="46.17" fill="#03a0e6" stroke="#222" stroke-width="0.6"/>
<line x1="351.20" y1="194.05" x2="351.20" y2="202.01" stroke="#444" stroke-width="0.8"/>
<line x1="349.90" y1="194.05" x2="352.50" y2="194.05" stroke="#444" stroke-width="0.8"/>
<line x1="349.90" y1="202.01" x2="352.50" y2="202.01" stroke="#444" stroke-width="0.8"/>
<rect x="357.00" y="181.32" width="11.60" height="62.88" fill="#000" stroke="#222" stroke-width="0.6"/>
<line x1="362.80" y1="175.74" x2="362.80" y2="181.32" stroke="#444" stroke-width="0.8"/>
<line x1="361.50" y1="175.74" x2="364.10" y2="175.74" stroke="#444" stroke-width="0.8"/>
<line x1="351.20" y1="244.20" x2="351.20" y2="246.00" stroke="#333" stroke-width="0.9"/>
<text x="348.90" y="251.50" font-size="7.67" font-family='"Liberation Serif", serif' text-anchor="middle" dominant-baseline="central" font-weight="normal" fill="#222" stroke="#222" stroke-width="0.12" textLength="32.33" lengthAdjust="spacingAndGlyphs">3-week-old</text>
<text x="349.20" y="259.20" font-size="7.67" font-family='"Liberation Serif", serif' text-anchor="middle" dominant-baseline="central" font-weight="normal" fill="#222" stroke="#222" stroke-width="0.12" textLength="12.22" lengthAdjust="spacingAndGlyphs">flies</text>
<rect x="386.20" y="205.20" width="11.60" height="39.00" fill="#fa7f25" stroke="#222" stroke-width="0.6"/>
<line x1="392.00" y1="202.01" x2="392.00" y2="208.38" stroke="#444" stroke-width="0.8"/>
<line x1="390.70" y1="202.01" x2="393.30" y2="202.01" stroke="#444" stroke-width="0.8"/>
<line x1="390.70" y1="208.38" x2="393.30" y2="208.38" stroke="#444" stroke-width="0.8"/>
<rect x="397.80" y="228.28" width="11.60" height="15.92" fill="#03a0e6" stroke="#222" stroke-width="0.6"/>
<line x1="403.60" y1="224.30" x2="403.60" y2="232.26" stroke="#444" stroke-width="0.8"/>
<line x1="402.30" y1="224.30" x2="404.90" y2="224.30" stroke="#444" stroke-width="0.8"/>
<line x1="402.30" y1="232.26" x2="404.90" y2="232.26" stroke="#444" stroke-width="0.8"/>
<rect x="409.40" y="214.75" width="11.60" height="29.45" fill="#000" stroke="#222" stroke-width="0.6"/>
<line x1="415.20" y1="210.77" x2="415.20" y2="214.75" stroke="#444" stroke-width="0.8"/>
<line x1="413.90" y1="210.77" x2="416.50" y2="210.77" stroke="#444" stroke-width="0.8"/>
<line x1="403.60" y1="244.20" x2="403.60" y2="246.00" stroke="#333" stroke-width="0.9"/>
<text x="405.40" y="251.50" font-size="7.67" font-family='"Liberation Serif", serif' text-anchor="middle" dominant-baseline="central" font-weight="normal" fill="#222" stroke="#222" stroke-width="0.12" textLength="32.33" lengthAdjust="spacingAndGlyphs">5-week-old</text>
<text x="404.50" y="259.20" font-size="7.67" font-family='"Liberation Serif", serif' text-anchor="middle" dominant-baseline="central" font-weight="normal" fill="#222" stroke="#222" stroke-width="0.12" textLength="12.22" lengthAdjust="spacingAndGlyphs">flies</text>
<path d="M286.2,158.9 L286.2,156.5 L297.5,156.5 L297.5,158.9" fill="none" stroke="#444" stroke-width="0.8"/>
<polygon points="291.85,150.00 292.56,151.72 294.42,151.87 293.01,153.08 293.44,154.88 291.85,153.91 290.26,154.88 290.69,153.08 289.28,151.87 291.14,151.72" fill="#222"/>
<path d="M300.2,161.6 L300.2,159.2 L310.9,159.2 L310.9,161.6" fill="none" stroke="#444" stroke-width="0.8"/>
<polygon points="305.55,152.70 306.26,154.42 308.12,154.57 306.71,155.78 307.14,157.58 305.55,156.61 303.96,157.58 304.39,155.78 302.98,154.57 304.84,154.42" fill="#222"/>
<path d="M339.1,168.0 L339.1,165.6 L350.6,165.6 L350.6,168.0" fill="none" stroke="#444" stroke-width="0.8"/>
<polygon points="342.15,159.10 342.86,160.82 344.72,160.97 343.31,162.18 343.74,163.98 342.15,163.01 340.56,163.98 340.99,162.18 339.58,160.97 341.44,160.82" fill="#222"/>
<polygon points="347.55,159.10 348.26,160.82 350.12,160.97 348.71,162.18 349.14,163.98 347.55,163.01 345.96,163.98 346.39,162.18 344.98,160.97 346.84,160.82" fill="#222"/>
<path d="M352.3,172.5 L352.3,170.1 L363.6,170.1 L363.6,172.5" fill="none" stroke="#444" stroke-width="0.8"/>
<polygon points="355.25,163.60 355.96,165.32 357.82,165.47 356.41,166.68 356.84,168.48 355.25,167.51 353.66,168.48 354.09,166.68 352.68,165.47 354.54,165.32" fill="#222"/>
<polygon points="360.65,163.60 361.36,165.32 363.22,165.47 361.81,166.68 362.24,168.48 360.65,167.51 359.06,168.48 359.49,166.68 358.08,165.47 359.94,165.32" fill="#222"/>
<path d="M390.7,198.9 L390.7,196.5 L401.8,196.5 L401.8,198.9" fill="none" stroke="#444" stroke-width="0.8"/>
<polygon points="393.55,190.00 394.26,191.72 396.12,191.87 394.71,193.08 395.14,194.88 393.55,193.91 391.96,194.88 392.39,193.08 390.98,191.87 392.84,191.72" fill="#222"/>
<polygon points="398.95,190.00 399.66,191.72 401.52,191.87 400.11,193.08 400.54,194.88 398.95,193.91 397.36,194.88 397.79,193.08 396.38,191.87 398.24,191.72" fill="#222"/>
<path d="M404.2,205.9 L404.2,203.5 L414.9,203.5 L414.9,205.9" fill="none" stroke="#444" stroke-width="0.8"/>
<polygon points="406.85,197.00 407.56,198.72 409.42,198.87 408.01,200.08 408.44,201.88 406.85,200.91 405.26,201.88 405.69,200.08 404.28,198.87 406.14,198.72" fill="#222"/>
<polygon points="412.25,197.00 412.96,198.72 414.82,198.87 413.41,200.08 413.84,201.88 412.25,200.91 410.66,201.88 411.09,200.08 409.68,198.87 411.54,198.72" fill="#222"/>
<rect x="397.00" y="148.30" width="81.80" height="24.30" fill="#fff" stroke="#8a8a8a" stroke-width="0.8"/>
<rect x="399.20" y="151.70" width="3.20" height="3.80" fill="#fa7f25" stroke="#222" stroke-width="0.4"/>
<text x="404.40" y="153.60" font-size="7.30" font-family='"Liberation Sans", sans-serif' text-anchor="start" dominant-baseline="central" font-weight="normal" fill="#222" stroke="#222" stroke-width="0.2">salt-control</text>
<rect x="399.20" y="158.90" width="3.20" height="3.80" fill="#03a0e6" stroke="#222" stroke-width="0.4"/>
<text x="404.40" y="160.80" font-size="7.30" font-family='"Liberation Sans", sans-serif' text-anchor="start" dominant-baseline="central" font-weight="normal" fill="#222" stroke="#222" stroke-width="0.2">salt-overexpression</text>
<rect x="399.20" y="166.10" width="3.20" height="3.80" fill="#000" stroke="#222" stroke-width="0.4"/>
<text x="404.40" y="168.00" font-size="7.30" font-family='"Liberation Sans", sans-serif' text-anchor="start" dominant-baseline="central" font-weight="normal" fill="#222" stroke="#222" stroke-width="0.2">salt-overexpression+E</text>
<text x="7.80" y="277.60" font-size="10.50" font-family='"Liberation Serif", serif' text-anchor="start" dominant-baseline="central" font-weight="bold" fill="#111">F</text>
<line x1="41.90" y1="285.30" x2="41.90" y2="373.60" stroke="#444" stroke-width="1.2"/>
<line x1="41.40" y1="373.10" x2="177.00" y2="373.10" stroke="#444" stroke-width="1.2"/>
<line x1="40.10" y1="373.10" x2="41.90" y2="373.10" stroke="#444" stroke-width="0.9"/>
<text x="36.50" y="373.90" font-size="7.20" font-family='"Liberation Serif", serif' text-anchor="end" dominant-baseline="central" font-weight="normal" fill="#1a1a1a" stroke="#1a1a1a" stroke-width="0.12">0</text>
<line x1="40.10" y1="355.64" x2="41.90" y2="355.64" stroke="#444" stroke-width="0.9"/>
<text x="36.50" y="356.44" font-size="7.20" font-family='"Liberation Serif", serif' text-anchor="end" dominant-baseline="central" font-weight="normal" fill="#1a1a1a" stroke="#1a1a1a" stroke-width="0.12">20</text>
<line x1="40.10" y1="338.18" x2="41.90" y2="338.18" stroke="#444" stroke-width="0.9"/>
<text x="36.50" y="338.98" font-size="7.20" font-family='"Liberation Serif", serif' text-anchor="end" dominant-baseline="central" font-weight="normal" fill="#1a1a1a" stroke="#1a1a1a" stroke-width="0.12">40</text>
<line x1="40.10" y1="320.72" x2="41.90" y2="320.72" stroke="#444" stroke-width="0.9"/>
<text x="36.50" y="321.52" font-size="7.20" font-family='"Liberation Serif", serif' text-anchor="end" dominant-baseline="central" font-weight="normal" fill="#1a1a1a" stroke="#1a1a1a" stroke-width="0.12">60</text>
<line x1="40.10" y1="303.26" x2="41.90" y2="303.26" stroke="#444" stroke-width="0.9"/>
<text x="36.50" y="304.06" font-size="7.20" font-family='"Liberation Serif", serif' text-anchor="end" dominant-baseline="central" font-weight="normal" fill="#1a1a1a" stroke="#1a1a1a" stroke-width="0.12">80</text>
<line x1="40.10" y1="285.80" x2="41.90" y2="285.80" stroke="#444" stroke-width="0.9"/>
<text x="36.50" y="286.60" font-size="7.20" font-family='"Liberation Serif", serif' text-anchor="end" dominant-baseline="central" font-weight="normal" fill="#1a1a1a" stroke="#1a1a1a" stroke-width="0.12">100</text>
<line x1="42.20" y1="373.10" x2="42.20" y2="374.90" stroke="#444" stroke-width="0.9"/>
<text x="42.20" y="379.90" font-size="6.80" font-family='"Liberation Serif", serif' text-anchor="middle" dominant-baseline="central" font-weight="normal" fill="#1a1a1a" stroke="#1a1a1a" stroke-width="0.12">0</text>
<line x1="60.20" y1="373.10" x2="60.20" y2="374.90" stroke="#444" stroke-width="0.9"/>
<text x="60.20" y="379.90" font-size="6.80" font-family='"Liberation Serif", serif' text-anchor="middle" dominant-baseline="central" font-weight="normal" fill="#1a1a1a" stroke="#1a1a1a" stroke-width="0.12">20</text>
<line x1="78.00" y1="373.10" x2="78.00" y2="374.90" stroke="#444" stroke-width="0.9"/>
<text x="78.00" y="379.90" font-size="6.80" font-family='"Liberation Serif", serif' text-anchor="middle" dominant-baseline="central" font-weight="normal" fill="#1a1a1a" stroke="#1a1a1a" stroke-width="0.12">30</text>
<line x1="96.50" y1="373.10" x2="96.50" y2="374.90" stroke="#444" stroke-width="0.9"/>
<text x="96.50" y="379.90" font-size="6.80" font-family='"Liberation Serif", serif' text-anchor="middle" dominant-baseline="central" font-weight="normal" fill="#1a1a1a" stroke="#1a1a1a" stroke-width="0.12">40</text>
<line x1="114.20" y1="373.10" x2="114.20" y2="374.90" stroke="#444" stroke-width="0.9"/>
<text x="114.20" y="379.90" font-size="6.80" font-family='"Liberation Serif", serif' text-anchor="middle" dominant-baseline="central" font-weight="normal" fill="#1a1a1a" stroke="#1a1a1a" stroke-width="0.12">50</text>
<line x1="132.00" y1="373.10" x2="132.00" y2="374.90" stroke="#444" stroke-width="0.9"/>
<text x="132.00" y="379.90" font-size="6.80" font-family='"Liberation Serif", serif' text-anchor="middle" dominant-baseline="central" font-weight="normal" fill="#1a1a1a" stroke="#1a1a1a" stroke-width="0.12">60</text>
<line x1="150.00" y1="373.10" x2="150.00" y2="374.90" stroke="#444" stroke-width="0.9"/>
<text x="150.00" y="379.90" font-size="6.80" font-family='"Liberation Serif", serif' text-anchor="middle" dominant-baseline="central" font-weight="normal" fill="#1a1a1a" stroke="#1a1a1a" stroke-width="0.12">70</text>
<line x1="167.60" y1="373.10" x2="167.60" y2="374.90" stroke="#444" stroke-width="0.9"/>
<text x="167.60" y="379.90" font-size="6.80" font-family='"Liberation Serif", serif' text-anchor="middle" dominant-baseline="central" font-weight="normal" fill="#1a1a1a" stroke="#1a1a1a" stroke-width="0.12">80</text>
<text x="16.00" y="330.70" font-size="7.78" font-family='"Liberation Serif", serif' text-anchor="middle" dominant-baseline="central" font-weight="normal" fill="#222" stroke="#222" stroke-width="0.12" textLength="75.17" lengthAdjust="spacingAndGlyphs" transform="rotate(-90 16 330.7)">Percentage of survival(%)</text>
<text x="96.30" y="390.30" font-size="7.78" font-family='"Liberation Serif", serif' text-anchor="middle" dominant-baseline="central" font-weight="normal" fill="#222" stroke="#222" stroke-width="0.12" textLength="27.19" lengthAdjust="spacingAndGlyphs">Age(day)</text>
<polyline points="42.00,286.00 95.00,286.30 102.00,286.80 107.50,287.40 112.80,289.10 116.30,293.20 118.90,297.60 120.70,302.90 122.70,311.20 125.50,319.70 127.60,326.70 128.70,331.00 130.80,339.00 132.90,343.80 135.10,348.50 137.20,352.80 139.80,357.00 143.50,360.20 147.80,362.80 152.50,366.00 157.80,368.60 163.10,370.20 169.40,371.80 174.20,373.20" fill="none" stroke="#f39a45" stroke-width="1.4" stroke-linejoin="round"/>
<polygon points="42.00,284.10 43.90,286.00 42.00,287.90 40.10,286.00" fill="#f39a45"/>
<polygon points="43.78,284.11 45.68,286.01 43.78,287.91 41.88,286.01" fill="#f39a45"/>
<polygon points="45.56,284.12 47.46,286.02 45.56,287.92 43.66,286.02" fill="#f39a45"/>
<polygon points="47.34,284.13 49.24,286.03 47.34,287.93 45.44,286.03" fill="#f39a45"/>
<polygon points="49.12,284.14 51.02,286.04 49.12,287.94 47.22,286.04" fill="#f39a45"/>
<polygon points="50.90,284.15 52.80,286.05 50.90,287.95 49.00,286.05" fill="#f39a45"/>
<polygon points="52.68,284.16 54.58,286.06 52.68,287.96 50.78,286.06" fill="#f39a45"/>
<polygon points="54.46,284.17 56.36,286.07 54.46,287.97 52.56,286.07" fill="#f39a45"/>
<polygon points="56.24,284.18 58.14,286.08 56.24,287.98 54.34,286.08" fill="#f39a45"/>
<polygon points="58.02,284.19 59.92,286.09 58.02,287.99 56.12,286.09" fill="#f39a45"/>
<polygon points="59.80,284.20 61.70,286.10 59.80,288.00 57.90,286.10" fill="#f39a45"/>
<polygon points="61.58,284.21 63.48,286.11 61.58,288.01 59.68,286.11" fill="#f39a45"/>
<polygon points="63.36,284.22 65.26,286.12 63.36,288.02 61.46,286.12" fill="#f39a45"/>
<polygon points="65.14,284.23 67.04,286.13 65.14,288.03 63.24,286.13" fill="#f39a45"/>
<polygon points="66.92,284.24 68.82,286.14 66.92,288.04 65.02,286.14" fill="#f39a45"/>
<polygon points="68.70,284.25 70.60,286.15 68.70,288.05 66.80,286.15" fill="#f39a45"/>
<polygon points="70.48,284.26 72.38,286.16 70.48,288.06 68.58,286.16" fill="#f39a45"/>
<polygon points="72.26,284.27 74.16,286.17 72.26,288.07 70.36,286.17" fill="#f39a45"/>
<polygon points="74.04,284.28 75.94,286.18 74.04,288.08 72.14,286.18" fill="#f39a45"/>
<polygon points="75.82,284.29 77.72,286.19 75.82,288.09 73.92,286.19" fill="#f39a45"/>
<polygon points="77.60,284.30 79.50,286.20 77.60,288.10 75.70,286.20" fill="#f39a45"/>
<polygon points="79.38,284.31 81.28,286.21 79.38,288.11 77.48,286.21" fill="#f39a45"/>
<polygon points="81.16,284.32 83.06,286.22 81.16,288.12 79.26,286.22" fill="#f39a45"/>
<polygon points="82.94,284.33 84.84,286.23 82.94,288.13 81.04,286.23" fill="#f39a45"/>
<polygon points="84.72,284.34 86.62,286.24 84.72,288.14 82.82,286.24" fill="#f39a45"/>
<polygon points="86.50,284.35 88.40,286.25 86.50,288.15 84.60,286.25" fill="#f39a45"/>
<polygon points="88.28,284.36 90.18,286.26 88.28,288.16 86.38,286.26" fill="#f39a45"/>
<polygon points="90.06,284.37 91.96,286.27 90.06,288.17 88.16,286.27" fill="#f39a45"/>
<polygon points="91.84,284.38 93.74,286.28 91.84,288.18 89.94,286.28" fill="#f39a45"/>
<polygon points="93.62,284.39 95.52,286.29 93.62,288.19 91.72,286.29" fill="#f39a45"/>
<polygon points="95.40,284.43 97.30,286.33 95.40,288.23 93.50,286.33" fill="#f39a45"/>
<polygon points="97.18,284.56 99.08,286.46 97.18,288.36 95.28,286.46" fill="#f39a45"/>
<polygon points="98.96,284.68 100.86,286.58 98.96,288.48 97.06,286.58" fill="#f39a45"/>
<polygon points="100.74,284.81 102.64,286.71 100.74,288.61 98.84,286.71" fill="#f39a45"/>
<polygon points="102.52,284.96 104.42,286.86 102.52,288.76 100.62,286.86" fill="#f39a45"/>
<polygon points="104.30,285.15 106.20,287.05 104.30,288.95 102.40,287.05" fill="#f39a45"/>
<polygon points="106.08,285.35 107.98,287.25 106.08,289.15 104.18,287.25" fill="#f39a45"/>
<polygon points="107.86,285.62 109.76,287.52 107.86,289.42 105.96,287.52" fill="#f39a45"/>
<polygon points="109.64,286.19 111.54,288.09 109.64,289.99 107.74,288.09" fill="#f39a45"/>
<polygon points="111.42,286.76 113.32,288.66 111.42,290.56 109.52,288.66" fill="#f39a45"/>
<polygon points="113.20,287.67 115.10,289.57 113.20,291.47 111.30,289.57" fill="#f39a45"/>
<polygon points="114.98,289.75 116.88,291.65 114.98,293.55 113.08,291.65" fill="#f39a45"/>
<polygon points="116.76,292.08 118.66,293.98 116.76,295.88 114.86,293.98" fill="#f39a45"/>
<polygon points="118.54,295.09 120.44,296.99 118.54,298.89 116.64,296.99" fill="#f39a45"/>
<polygon points="120.32,299.88 122.22,301.78 120.32,303.68 118.42,301.78" fill="#f39a45"/>
<polygon points="122.10,306.81 124.00,308.71 122.10,310.61 120.20,308.71" fill="#f39a45"/>
<polygon points="123.88,312.88 125.78,314.78 123.88,316.68 121.98,314.78" fill="#f39a45"/>
<polygon points="125.66,318.33 127.56,320.23 125.66,322.13 123.76,320.23" fill="#f39a45"/>
<polygon points="127.44,324.27 129.34,326.17 127.44,328.07 125.54,326.17" fill="#f39a45"/>
<polygon points="129.22,331.08 131.12,332.98 129.22,334.88 127.32,332.98" fill="#f39a45"/>
<polygon points="131.00,337.56 132.90,339.46 131.00,341.36 129.10,339.46" fill="#f39a45"/>
<polygon points="132.78,341.63 134.68,343.53 132.78,345.43 130.88,343.53" fill="#f39a45"/>
<polygon points="134.56,345.45 136.46,347.35 134.56,349.25 132.66,347.35" fill="#f39a45"/>
<polygon points="136.34,349.14 138.24,351.04 136.34,352.94 134.44,351.04" fill="#f39a45"/>
<polygon points="138.12,352.39 140.02,354.29 138.12,356.19 136.22,354.29" fill="#f39a45"/>
<polygon points="139.90,355.19 141.80,357.09 139.90,358.99 138.00,357.09" fill="#f39a45"/>
<polygon points="141.68,356.73 143.58,358.63 141.68,360.53 139.78,358.63" fill="#f39a45"/>
<polygon points="143.46,358.27 145.36,360.17 143.46,362.07 141.56,360.17" fill="#f39a45"/>
<polygon points="145.24,359.35 147.14,361.25 145.24,363.15 143.34,361.25" fill="#f39a45"/>
<polygon points="147.02,360.43 148.92,362.33 147.02,364.23 145.12,362.33" fill="#f39a45"/>
<polygon points="148.80,361.58 150.70,363.48 148.80,365.38 146.90,363.48" fill="#f39a45"/>
<polygon points="150.58,362.79 152.48,364.69 150.58,366.59 148.68,364.69" fill="#f39a45"/>
<polygon points="152.36,364.00 154.26,365.90 152.36,367.80 150.46,365.90" fill="#f39a45"/>
<polygon points="154.14,364.90 156.04,366.80 154.14,368.70 152.24,366.80" fill="#f39a45"/>
<polygon points="155.92,365.78 157.82,367.68 155.92,369.58 154.02,367.68" fill="#f39a45"/>
<polygon points="157.70,366.65 159.60,368.55 157.70,370.45 155.80,368.55" fill="#f39a45"/>
<polygon points="159.48,367.21 161.38,369.11 159.48,371.01 157.58,369.11" fill="#f39a45"/>
<polygon points="161.26,367.74 163.16,369.64 161.26,371.54 159.36,369.64" fill="#f39a45"/>
<polygon points="163.04,368.28 164.94,370.18 163.04,372.08 161.14,370.18" fill="#f39a45"/>
<polygon points="164.82,368.74 166.72,370.64 164.82,372.54 162.92,370.64" fill="#f39a45"/>
<polygon points="166.60,369.19 168.50,371.09 166.60,372.99 164.70,371.09" fill="#f39a45"/>
<polygon points="168.38,369.64 170.28,371.54 168.38,373.44 166.48,371.54" fill="#f39a45"/>
<polygon points="170.16,370.12 172.06,372.02 170.16,373.92 168.26,372.02" fill="#f39a45"/>
<polygon points="171.94,370.64 173.84,372.54 171.94,374.44 170.04,372.54" fill="#f39a45"/>
<polygon points="173.72,371.16 175.62,373.06 173.72,374.96 171.82,373.06" fill="#f39a45"/>
<polyline points="42.00,285.90 95.20,285.90 104.00,287.40 109.20,289.70 111.90,294.10 113.60,297.60 115.40,302.90 117.20,309.00 118.90,315.20 120.10,322.20 121.60,328.40 123.00,334.50 124.20,340.70 126.20,346.40 128.30,352.00 131.10,357.60 133.90,361.90 138.10,366.10 143.70,368.90 152.20,371.00 159.90,372.40" fill="none" stroke="#1aa7e2" stroke-width="1.4" stroke-linejoin="round"/>
<circle cx="42.00" cy="285.90" r="1.95" fill="#1aa7e2"/>
<circle cx="43.78" cy="285.90" r="1.95" fill="#1aa7e2"/>
<circle cx="45.56" cy="285.90" r="1.95" fill="#1aa7e2"/>
<circle cx="47.34" cy="285.90" r="1.95" fill="#1aa7e2"/>
<circle cx="49.12" cy="285.90" r="1.95" fill="#1aa7e2"/>
<circle cx="50.90" cy="285.90" r="1.95" fill="#1aa7e2"/>
<circle cx="52.68" cy="285.90" r="1.95" fill="#1aa7e2"/>
<circle cx="54.46" cy="285.90" r="1.95" fill="#1aa7e2"/>
<circle cx="56.24" cy="285.90" r="1.95" fill="#1aa7e2"/>
<circle cx="58.02" cy="285.90" r="1.95" fill="#1aa7e2"/>
<circle cx="59.80" cy="285.90" r="1.95" fill="#1aa7e2"/>
<circle cx="61.58" cy="285.90" r="1.95" fill="#1aa7e2"/>
<circle cx="63.36" cy="285.90" r="1.95" fill="#1aa7e2"/>
<circle cx="65.14" cy="285.90" r="1.95" fill="#1aa7e2"/>
<circle cx="66.92" cy="285.90" r="1.95" fill="#1aa7e2"/>
<circle cx="68.70" cy="285.90" r="1.95" fill="#1aa7e2"/>
<circle cx="70.48" cy="285.90" r="1.95" fill="#1aa7e2"/>
<circle cx="72.26" cy="285.90" r="1.95" fill="#1aa7e2"/>
<circle cx="74.04" cy="285.90" r="1.95" fill="#1aa7e2"/>
<circle cx="75.82" cy="285.90" r="1.95" fill="#1aa7e2"/>
<circle cx="77.60" cy="285.90" r="1.95" fill="#1aa7e2"/>
<circle cx="79.38" cy="285.90" r="1.95" fill="#1aa7e2"/>
<circle cx="81.16" cy="285.90" r="1.95" fill="#1aa7e2"/>
<circle cx="82.94" cy="285.90" r="1.95" fill="#1aa7e2"/>
<circle cx="84.72" cy="285.90" r="1.95" fill="#1aa7e2"/>
<circle cx="86.50" cy="285.90" r="1.95" fill="#1aa7e2"/>
<circle cx="88.28" cy="285.90" r="1.95" fill="#1aa7e2"/>
<circle cx="90.06" cy="285.90" r="1.95" fill="#1aa7e2"/>
<circle cx="91.84" cy="285.90" r="1.95" fill="#1aa7e2"/>
<circle cx="93.62" cy="285.90" r="1.95" fill="#1aa7e2"/>
<circle cx="95.40" cy="285.93" r="1.95" fill="#1aa7e2"/>
<circle cx="97.18" cy="286.24" r="1.95" fill="#1aa7e2"/>
<circle cx="98.96" cy="286.54" r="1.95" fill="#1aa7e2"/>
<circle cx="100.74" cy="286.84" r="1.95" fill="#1aa7e2"/>
<circle cx="102.52" cy="287.15" r="1.95" fill="#1aa7e2"/>
<circle cx="104.30" cy="287.53" r="1.95" fill="#1aa7e2"/>
<circle cx="106.08" cy="288.32" r="1.95" fill="#1aa7e2"/>
<circle cx="107.86" cy="289.11" r="1.95" fill="#1aa7e2"/>
<circle cx="109.64" cy="290.42" r="1.95" fill="#1aa7e2"/>
<circle cx="111.42" cy="293.32" r="1.95" fill="#1aa7e2"/>
<circle cx="113.20" cy="296.78" r="1.95" fill="#1aa7e2"/>
<circle cx="114.98" cy="301.66" r="1.95" fill="#1aa7e2"/>
<circle cx="116.76" cy="307.51" r="1.95" fill="#1aa7e2"/>
<circle cx="118.54" cy="313.89" r="1.95" fill="#1aa7e2"/>
<circle cx="120.32" cy="323.11" r="1.95" fill="#1aa7e2"/>
<circle cx="122.10" cy="330.58" r="1.95" fill="#1aa7e2"/>
<circle cx="123.88" cy="339.05" r="1.95" fill="#1aa7e2"/>
<circle cx="125.66" cy="344.86" r="1.95" fill="#1aa7e2"/>
<circle cx="127.44" cy="349.71" r="1.95" fill="#1aa7e2"/>
<circle cx="129.22" cy="353.84" r="1.95" fill="#1aa7e2"/>
<circle cx="131.00" cy="357.40" r="1.95" fill="#1aa7e2"/>
<circle cx="132.78" cy="360.18" r="1.95" fill="#1aa7e2"/>
<circle cx="134.56" cy="362.56" r="1.95" fill="#1aa7e2"/>
<circle cx="136.34" cy="364.34" r="1.95" fill="#1aa7e2"/>
<circle cx="138.12" cy="366.11" r="1.95" fill="#1aa7e2"/>
<circle cx="139.90" cy="367.00" r="1.95" fill="#1aa7e2"/>
<circle cx="141.68" cy="367.89" r="1.95" fill="#1aa7e2"/>
<circle cx="143.46" cy="368.78" r="1.95" fill="#1aa7e2"/>
<circle cx="145.24" cy="369.28" r="1.95" fill="#1aa7e2"/>
<circle cx="147.02" cy="369.72" r="1.95" fill="#1aa7e2"/>
<circle cx="148.80" cy="370.16" r="1.95" fill="#1aa7e2"/>
<circle cx="150.58" cy="370.60" r="1.95" fill="#1aa7e2"/>
<circle cx="152.36" cy="371.03" r="1.95" fill="#1aa7e2"/>
<circle cx="154.14" cy="371.35" r="1.95" fill="#1aa7e2"/>
<circle cx="155.92" cy="371.68" r="1.95" fill="#1aa7e2"/>
<circle cx="157.70" cy="372.00" r="1.95" fill="#1aa7e2"/>
<circle cx="159.48" cy="372.32" r="1.95" fill="#1aa7e2"/>
<polyline points="42.00,286.80 77.60,286.80 86.40,288.40 95.20,290.90 98.70,292.70 101.30,295.80 103.10,300.20 104.80,304.60 106.60,310.80 107.80,317.00 109.20,323.10 111.00,329.20 112.80,334.50 114.90,339.40 117.70,346.40 121.20,353.40 124.10,359.00 127.60,364.00 132.50,368.90 138.10,371.70 143.70,373.10" fill="none" stroke="#ee1c24" stroke-width="1.4" stroke-linejoin="round"/>
<rect x="40.30" y="285.10" width="3.4" height="3.4" fill="#ee1c24"/>
<rect x="42.08" y="285.10" width="3.4" height="3.4" fill="#ee1c24"/>
<rect x="43.86" y="285.10" width="3.4" height="3.4" fill="#ee1c24"/>
<rect x="45.64" y="285.10" width="3.4" height="3.4" fill="#ee1c24"/>
<rect x="47.42" y="285.10" width="3.4" height="3.4" fill="#ee1c24"/>
<rect x="49.20" y="285.10" width="3.4" height="3.4" fill="#ee1c24"/>
<rect x="50.98" y="285.10" width="3.4" height="3.4" fill="#ee1c24"/>
<rect x="52.76" y="285.10" width="3.4" height="3.4" fill="#ee1c24"/>
<rect x="54.54" y="285.10" width="3.4" height="3.4" fill="#ee1c24"/>
<rect x="56.32" y="285.10" width="3.4" height="3.4" fill="#ee1c24"/>
<rect x="58.10" y="285.10" width="3.4" height="3.4" fill="#ee1c24"/>
<rect x="59.88" y="285.10" width="3.4" height="3.4" fill="#ee1c24"/>
<rect x="61.66" y="285.10" width="3.4" height="3.4" fill="#ee1c24"/>
<rect x="63.44" y="285.10" width="3.4" height="3.4" fill="#ee1c24"/>
<rect x="65.22" y="285.10" width="3.4" height="3.4" fill="#ee1c24"/>
<rect x="67.00" y="285.10" width="3.4" height="3.4" fill="#ee1c24"/>
<rect x="68.78" y="285.10" width="3.4" height="3.4" fill="#ee1c24"/>
<rect x="70.56" y="285.10" width="3.4" height="3.4" fill="#ee1c24"/>
<rect x="72.34" y="285.10" width="3.4" height="3.4" fill="#ee1c24"/>
<rect x="74.12" y="285.10" width="3.4" height="3.4" fill="#ee1c24"/>
<rect x="75.90" y="285.10" width="3.4" height="3.4" fill="#ee1c24"/>
<rect x="77.68" y="285.42" width="3.4" height="3.4" fill="#ee1c24"/>
<rect x="79.46" y="285.75" width="3.4" height="3.4" fill="#ee1c24"/>
<rect x="81.24" y="286.07" width="3.4" height="3.4" fill="#ee1c24"/>
<rect x="83.02" y="286.39" width="3.4" height="3.4" fill="#ee1c24"/>
<rect x="84.80" y="286.73" width="3.4" height="3.4" fill="#ee1c24"/>
<rect x="86.58" y="287.23" width="3.4" height="3.4" fill="#ee1c24"/>
<rect x="88.36" y="287.74" width="3.4" height="3.4" fill="#ee1c24"/>
<rect x="90.14" y="288.25" width="3.4" height="3.4" fill="#ee1c24"/>
<rect x="91.92" y="288.75" width="3.4" height="3.4" fill="#ee1c24"/>
<rect x="93.70" y="289.30" width="3.4" height="3.4" fill="#ee1c24"/>
<rect x="95.48" y="290.22" width="3.4" height="3.4" fill="#ee1c24"/>
<rect x="97.26" y="291.31" width="3.4" height="3.4" fill="#ee1c24"/>
<rect x="99.04" y="293.43" width="3.4" height="3.4" fill="#ee1c24"/>
<rect x="100.82" y="297.08" width="3.4" height="3.4" fill="#ee1c24"/>
<rect x="102.60" y="301.61" width="3.4" height="3.4" fill="#ee1c24"/>
<rect x="104.38" y="307.31" width="3.4" height="3.4" fill="#ee1c24"/>
<rect x="106.16" y="315.56" width="3.4" height="3.4" fill="#ee1c24"/>
<rect x="107.94" y="322.89" width="3.4" height="3.4" fill="#ee1c24"/>
<rect x="109.72" y="328.74" width="3.4" height="3.4" fill="#ee1c24"/>
<rect x="111.50" y="333.73" width="3.4" height="3.4" fill="#ee1c24"/>
<rect x="113.28" y="337.90" width="3.4" height="3.4" fill="#ee1c24"/>
<rect x="115.06" y="342.35" width="3.4" height="3.4" fill="#ee1c24"/>
<rect x="116.84" y="346.38" width="3.4" height="3.4" fill="#ee1c24"/>
<rect x="118.62" y="349.94" width="3.4" height="3.4" fill="#ee1c24"/>
<rect x="120.40" y="353.44" width="3.4" height="3.4" fill="#ee1c24"/>
<rect x="122.18" y="356.88" width="3.4" height="3.4" fill="#ee1c24"/>
<rect x="123.96" y="359.53" width="3.4" height="3.4" fill="#ee1c24"/>
<rect x="125.74" y="362.07" width="3.4" height="3.4" fill="#ee1c24"/>
<rect x="127.52" y="363.92" width="3.4" height="3.4" fill="#ee1c24"/>
<rect x="129.30" y="365.70" width="3.4" height="3.4" fill="#ee1c24"/>
<rect x="131.08" y="367.34" width="3.4" height="3.4" fill="#ee1c24"/>
<rect x="132.86" y="368.23" width="3.4" height="3.4" fill="#ee1c24"/>
<rect x="134.64" y="369.12" width="3.4" height="3.4" fill="#ee1c24"/>
<rect x="136.42" y="370.00" width="3.4" height="3.4" fill="#ee1c24"/>
<rect x="138.20" y="370.45" width="3.4" height="3.4" fill="#ee1c24"/>
<rect x="139.98" y="370.90" width="3.4" height="3.4" fill="#ee1c24"/>
<rect x="141.76" y="371.34" width="3.4" height="3.4" fill="#ee1c24"/>
<line x1="113.50" y1="333.30" x2="128.30" y2="333.30" stroke="#111" stroke-width="1.2"/>
<polygon points="116.30,326.70 117.04,328.48 118.96,328.63 117.50,329.89 117.95,331.77 116.30,330.76 114.65,331.77 115.10,329.89 113.64,328.63 115.56,328.48" fill="#222"/>
<polygon points="121.90,326.70 122.64,328.48 124.56,328.63 123.10,329.89 123.55,331.77 121.90,330.76 120.25,331.77 120.70,329.89 119.24,328.63 121.16,328.48" fill="#222"/>
<line x1="117.70" y1="345.30" x2="124.80" y2="345.30" stroke="#111" stroke-width="1.2"/>
<polygon points="121.20,339.00 121.94,340.78 123.86,340.93 122.40,342.19 122.85,344.07 121.20,343.06 119.55,344.07 120.00,342.19 118.54,340.93 120.46,340.78" fill="#222"/>
<rect x="140.00" y="286.00" width="89.50" height="24.30" fill="#fff" stroke="#8a8a8a" stroke-width="0.8"/>
<line x1="141.20" y1="291.00" x2="153.30" y2="291.00" stroke="#f39a45" stroke-width="1.4"/>
<polygon points="147.00,289.10 148.90,291.00 147.00,292.90 145.10,291.00" fill="#f39a45"/>
<text x="154.00" y="291.00" font-size="7.30" font-family='"Liberation Sans", sans-serif' text-anchor="start" dominant-baseline="central" font-weight="normal" fill="#222" stroke="#222" stroke-width="0.2">salt-control</text>
<line x1="141.20" y1="298.80" x2="153.30" y2="298.80" stroke="#1aa7e2" stroke-width="1.4"/>
<circle cx="147.00" cy="298.80" r="1.9" fill="#1aa7e2"/>
<text x="154.00" y="298.80" font-size="7.30" font-family='"Liberation Sans", sans-serif' text-anchor="start" dominant-baseline="central" font-weight="normal" fill="#222" stroke="#222" stroke-width="0.2">salt-overexpression</text>
<line x1="141.20" y1="306.60" x2="153.30" y2="306.60" stroke="#ee1c24" stroke-width="1.4"/>
<rect x="145.40" y="305.00" width="3.2" height="3.2" fill="#ee1c24"/>
<text x="154.00" y="306.60" font-size="7.30" font-family='"Liberation Sans", sans-serif' text-anchor="start" dominant-baseline="central" font-weight="normal" fill="#222" stroke="#222" stroke-width="0.2">salt-overexpression+E</text>
<text x="255.30" y="279.50" font-size="10.50" font-family='"Liberation Serif", serif' text-anchor="start" dominant-baseline="central" font-weight="bold" fill="#111">G</text>
<line x1="333.20" y1="281.00" x2="333.20" y2="370.00" stroke="#444" stroke-width="1.1"/>
<line x1="332.70" y1="369.50" x2="434.50" y2="369.50" stroke="#444" stroke-width="1.1"/>
<line x1="333.20" y1="369.50" x2="333.20" y2="371.30" stroke="#444" stroke-width="0.9"/>
<text x="333.20" y="379.10" font-size="7.30" font-family='"Liberation Serif", serif' text-anchor="middle" dominant-baseline="central" font-weight="normal" fill="#1a1a1a" stroke="#1a1a1a" stroke-width="0.12">0</text>
<line x1="358.40" y1="369.50" x2="358.40" y2="371.30" stroke="#444" stroke-width="0.9"/>
<text x="358.40" y="379.10" font-size="7.30" font-family='"Liberation Serif", serif' text-anchor="middle" dominant-baseline="central" font-weight="normal" fill="#1a1a1a" stroke="#1a1a1a" stroke-width="0.12">20</text>
<line x1="383.60" y1="369.50" x2="383.60" y2="371.30" stroke="#444" stroke-width="0.9"/>
<text x="383.60" y="379.10" font-size="7.30" font-family='"Liberation Serif", serif' text-anchor="middle" dominant-baseline="central" font-weight="normal" fill="#1a1a1a" stroke="#1a1a1a" stroke-width="0.12">40</text>
<line x1="408.80" y1="369.50" x2="408.80" y2="371.30" stroke="#444" stroke-width="0.9"/>
<text x="408.80" y="379.10" font-size="7.30" font-family='"Liberation Serif", serif' text-anchor="middle" dominant-baseline="central" font-weight="normal" fill="#1a1a1a" stroke="#1a1a1a" stroke-width="0.12">60</text>
<line x1="434.00" y1="369.50" x2="434.00" y2="371.30" stroke="#444" stroke-width="0.9"/>
<text x="434.00" y="379.10" font-size="7.30" font-family='"Liberation Serif", serif' text-anchor="middle" dominant-baseline="central" font-weight="normal" fill="#1a1a1a" stroke="#1a1a1a" stroke-width="0.12">80</text>
<text x="387.00" y="386.80" font-size="7.61" font-family='"Liberation Serif", serif' text-anchor="middle" dominant-baseline="central" font-weight="normal" fill="#222" stroke="#222" stroke-width="0.12" textLength="62.31" lengthAdjust="spacingAndGlyphs">Average lifespan(day)</text>
<rect x="333.20" y="293.00" width="73.33" height="17.00" fill="#e8202a" stroke="#1a1a1a" stroke-width="0.9"/>
<line x1="403.38" y1="301.50" x2="409.68" y2="301.50" stroke="#333" stroke-width="0.8"/>
<line x1="403.38" y1="300.30" x2="403.38" y2="302.70" stroke="#333" stroke-width="0.8"/>
<line x1="409.68" y1="300.30" x2="409.68" y2="302.70" stroke="#333" stroke-width="0.8"/>
<text x="331.20" y="302.60" font-size="7.30" font-family='"Liberation Sans", sans-serif' text-anchor="end" dominant-baseline="central" font-weight="normal" fill="#222" stroke="#222" stroke-width="0.2">salt-overexpression+E</text>
<rect x="333.20" y="316.70" width="63.76" height="16.80" fill="#03a0e6" stroke="#1a1a1a" stroke-width="0.9"/>
<line x1="393.81" y1="325.10" x2="400.11" y2="325.10" stroke="#333" stroke-width="0.8"/>
<line x1="393.81" y1="323.90" x2="393.81" y2="326.30" stroke="#333" stroke-width="0.8"/>
<line x1="400.11" y1="323.90" x2="400.11" y2="326.30" stroke="#333" stroke-width="0.8"/>
<text x="331.20" y="326.20" font-size="7.30" font-family='"Liberation Sans", sans-serif' text-anchor="end" dominant-baseline="central" font-weight="normal" fill="#222" stroke="#222" stroke-width="0.2">salt-overexpression</text>
<rect x="333.20" y="340.00" width="81.40" height="16.80" fill="#fa7f25" stroke="#1a1a1a" stroke-width="0.9"/>
<line x1="411.45" y1="348.40" x2="417.75" y2="348.40" stroke="#333" stroke-width="0.8"/>
<line x1="411.45" y1="347.20" x2="411.45" y2="349.60" stroke="#333" stroke-width="0.8"/>
<line x1="417.75" y1="347.20" x2="417.75" y2="349.60" stroke="#333" stroke-width="0.8"/>
<text x="331.20" y="349.50" font-size="7.30" font-family='"Liberation Sans", sans-serif' text-anchor="end" dominant-baseline="central" font-weight="normal" fill="#222" stroke="#222" stroke-width="0.2">salt-control</text>
<rect x="133.80" y="399.60" width="236.60" height="13.30" fill="#fff" stroke="#8a8a8a" stroke-width="0.8"/>
<rect x="138.40" y="404.30" width="10.10" height="5.00" fill="#fa7f25" stroke="#111" stroke-width="1.0"/>
<text x="149.90" y="406.50" font-size="7.30" font-family='"Liberation Sans", sans-serif' text-anchor="start" dominant-baseline="central" font-weight="normal" fill="#222" stroke="#222" stroke-width="0.2">salt-control</text>
<rect x="199.10" y="404.30" width="10.10" height="5.00" fill="#03a0e6" stroke="#111" stroke-width="1.0"/>
<text x="210.60" y="406.50" font-size="7.30" font-family='"Liberation Sans", sans-serif' text-anchor="start" dominant-baseline="central" font-weight="normal" fill="#222" stroke="#222" stroke-width="0.2">salt-overexpression</text>
<rect x="283.60" y="404.30" width="10.10" height="5.00" fill="#000" stroke="#111" stroke-width="1.0"/>
<text x="295.10" y="406.50" font-size="7.30" font-family='"Liberation Sans", sans-serif' text-anchor="start" dominant-baseline="central" font-weight="normal" fill="#222" stroke="#222" stroke-width="0.2">salt-overexpression+E</text>
<text x="4.00" y="423.20" font-size="10.50" font-family='"Liberation Serif", serif' text-anchor="start" dominant-baseline="central" font-weight="bold" fill="#111">H</text>
<line x1="37.00" y1="433.80" x2="37.00" y2="563.90" stroke="#444" stroke-width="1.1"/>
<line x1="36.50" y1="563.40" x2="125.00" y2="563.40" stroke="#444" stroke-width="1.1"/>
<line x1="35.20" y1="563.40" x2="37.00" y2="563.40" stroke="#444" stroke-width="0.9"/>
<text x="29.20" y="564.60" font-size="7.20" font-family='"Liberation Serif", serif' text-anchor="end" dominant-baseline="central" font-weight="normal" fill="#1a1a1a" stroke="#1a1a1a" stroke-width="0.12">0.00</text>
<line x1="35.20" y1="537.58" x2="37.00" y2="537.58" stroke="#444" stroke-width="0.9"/>
<text x="29.20" y="538.78" font-size="7.20" font-family='"Liberation Serif", serif' text-anchor="end" dominant-baseline="central" font-weight="normal" fill="#1a1a1a" stroke="#1a1a1a" stroke-width="0.12">0.50</text>
<line x1="35.20" y1="511.76" x2="37.00" y2="511.76" stroke="#444" stroke-width="0.9"/>
<text x="29.20" y="512.96" font-size="7.20" font-family='"Liberation Serif", serif' text-anchor="end" dominant-baseline="central" font-weight="normal" fill="#1a1a1a" stroke="#1a1a1a" stroke-width="0.12">1.00</text>
<line x1="35.20" y1="485.94" x2="37.00" y2="485.94" stroke="#444" stroke-width="0.9"/>
<text x="29.20" y="487.14" font-size="7.20" font-family='"Liberation Serif", serif' text-anchor="end" dominant-baseline="central" font-weight="normal" fill="#1a1a1a" stroke="#1a1a1a" stroke-width="0.12">1.50</text>
<line x1="35.20" y1="460.12" x2="37.00" y2="460.12" stroke="#444" stroke-width="0.9"/>
<text x="29.20" y="461.32" font-size="7.20" font-family='"Liberation Serif", serif' text-anchor="end" dominant-baseline="central" font-weight="normal" fill="#1a1a1a" stroke="#1a1a1a" stroke-width="0.12">2.00</text>
<line x1="35.20" y1="434.30" x2="37.00" y2="434.30" stroke="#444" stroke-width="0.9"/>
<text x="29.20" y="435.50" font-size="7.20" font-family='"Liberation Serif", serif' text-anchor="end" dominant-baseline="central" font-weight="normal" fill="#1a1a1a" stroke="#1a1a1a" stroke-width="0.12">2.50</text>
<rect x="51.50" y="511.76" width="19.90" height="51.64" fill="#fa7f25" stroke="#1a1a1a" stroke-width="0.9"/>
<rect x="71.40" y="457.54" width="19.90" height="105.86" fill="#03a0e6" stroke="#1a1a1a" stroke-width="0.9"/>
<line x1="81.35" y1="453.05" x2="81.35" y2="462.03" stroke="#444" stroke-width="0.8"/>
<line x1="80.15" y1="453.05" x2="82.55" y2="453.05" stroke="#444" stroke-width="0.8"/>
<line x1="80.15" y1="462.03" x2="82.55" y2="462.03" stroke="#444" stroke-width="0.8"/>
<rect x="91.30" y="459.09" width="19.90" height="104.31" fill="#000" stroke="#1a1a1a" stroke-width="0.9"/>
<line x1="101.25" y1="455.47" x2="101.25" y2="459.09" stroke="#444" stroke-width="0.8"/>
<line x1="100.05" y1="455.47" x2="102.45" y2="455.47" stroke="#444" stroke-width="0.8"/>
<text x="6.8" y="500.4" font-size="9.2" font-family='"Liberation Serif", serif' text-anchor="middle" dominant-baseline="central" fill="#222" transform="rotate(-90 6.8 500.4)">Relative <tspan font-style="italic">salt</tspan> expression</text>
<path d="M57.6,448.2 L57.6,445.4 L81.2,445.4 L81.2,448.2" fill="none" stroke="#222" stroke-width="1.1"/>
<polygon points="66.80,438.50 67.51,440.22 69.37,440.37 67.96,441.58 68.39,443.38 66.80,442.41 65.21,443.38 65.64,441.58 64.23,440.37 66.09,440.22" fill="#222"/>
<polygon points="72.00,438.50 72.71,440.22 74.57,440.37 73.16,441.58 73.59,443.38 72.00,442.41 70.41,443.38 70.84,441.58 69.43,440.37 71.29,440.22" fill="#222"/>
<path d="M79.6,439.3 L79.6,436.5 L103.2,436.5 L103.2,439.3" fill="none" stroke="#222" stroke-width="1.1"/>
<text x="91.40" y="432.20" font-size="7.30" font-family='"Liberation Sans", sans-serif' text-anchor="middle" dominant-baseline="central" font-weight="normal" fill="#333" stroke="#333" stroke-width="0.2">ns</text>
<text x="135.00" y="425.60" font-size="10.50" font-family='"Liberation Serif", serif' text-anchor="start" dominant-baseline="central" font-weight="normal" fill="#111" stroke="#111" stroke-width="0.12">I</text>
<line x1="165.70" y1="432.40" x2="165.70" y2="563.30" stroke="#444" stroke-width="1.1"/>
<line x1="165.20" y1="562.80" x2="252.80" y2="562.80" stroke="#444" stroke-width="1.1"/>
<line x1="163.90" y1="562.80" x2="165.70" y2="562.80" stroke="#444" stroke-width="0.9"/>
<text x="157.90" y="564.00" font-size="7.20" font-family='"Liberation Serif", serif' text-anchor="end" dominant-baseline="central" font-weight="normal" fill="#1a1a1a" stroke="#1a1a1a" stroke-width="0.12">0.00</text>
<line x1="163.90" y1="541.15" x2="165.70" y2="541.15" stroke="#444" stroke-width="0.9"/>
<text x="157.90" y="542.35" font-size="7.20" font-family='"Liberation Serif", serif' text-anchor="end" dominant-baseline="central" font-weight="normal" fill="#1a1a1a" stroke="#1a1a1a" stroke-width="0.12">0.20</text>
<line x1="163.90" y1="519.50" x2="165.70" y2="519.50" stroke="#444" stroke-width="0.9"/>
<text x="157.90" y="520.70" font-size="7.20" font-family='"Liberation Serif", serif' text-anchor="end" dominant-baseline="central" font-weight="normal" fill="#1a1a1a" stroke="#1a1a1a" stroke-width="0.12">0.40</text>
<line x1="163.90" y1="497.85" x2="165.70" y2="497.85" stroke="#444" stroke-width="0.9"/>
<text x="157.90" y="499.05" font-size="7.20" font-family='"Liberation Serif", serif' text-anchor="end" dominant-baseline="central" font-weight="normal" fill="#1a1a1a" stroke="#1a1a1a" stroke-width="0.12">0.60</text>
<line x1="163.90" y1="476.20" x2="165.70" y2="476.20" stroke="#444" stroke-width="0.9"/>
<text x="157.90" y="477.40" font-size="7.20" font-family='"Liberation Serif", serif' text-anchor="end" dominant-baseline="central" font-weight="normal" fill="#1a1a1a" stroke="#1a1a1a" stroke-width="0.12">0.80</text>
<line x1="163.90" y1="454.55" x2="165.70" y2="454.55" stroke="#444" stroke-width="0.9"/>
<text x="157.90" y="455.75" font-size="7.20" font-family='"Liberation Serif", serif' text-anchor="end" dominant-baseline="central" font-weight="normal" fill="#1a1a1a" stroke="#1a1a1a" stroke-width="0.12">1.00</text>
<line x1="163.90" y1="432.90" x2="165.70" y2="432.90" stroke="#444" stroke-width="0.9"/>
<text x="157.90" y="434.10" font-size="7.20" font-family='"Liberation Serif", serif' text-anchor="end" dominant-baseline="central" font-weight="normal" fill="#1a1a1a" stroke="#1a1a1a" stroke-width="0.12">1.20</text>
<rect x="180.40" y="454.55" width="19.70" height="108.25" fill="#fa7f25" stroke="#1a1a1a" stroke-width="0.9"/>
<rect x="200.10" y="491.90" width="19.70" height="70.90" fill="#03a0e6" stroke="#1a1a1a" stroke-width="0.9"/>
<line x1="209.95" y1="485.40" x2="209.95" y2="498.39" stroke="#444" stroke-width="0.8"/>
<line x1="208.75" y1="485.40" x2="211.15" y2="485.40" stroke="#444" stroke-width="0.8"/>
<line x1="208.75" y1="498.39" x2="211.15" y2="498.39" stroke="#444" stroke-width="0.8"/>
<rect x="219.80" y="470.79" width="19.70" height="92.01" fill="#000" stroke="#1a1a1a" stroke-width="0.9"/>
<line x1="229.65" y1="463.75" x2="229.65" y2="470.79" stroke="#444" stroke-width="0.8"/>
<line x1="228.45" y1="463.75" x2="230.85" y2="463.75" stroke="#444" stroke-width="0.8"/>
<text x="138" y="499.5" font-size="9.2" font-family='"Liberation Serif", serif' text-anchor="middle" dominant-baseline="central" fill="#222" transform="rotate(-90 138 499.5)">Relative <tspan font-style="italic">dFOXO</tspan> expression</text>
<path d="M188,446.1 L188,443.3 L211,443.3 L211,446.1" fill="none" stroke="#222" stroke-width="1.1"/>
<polygon points="196.90,436.40 197.61,438.12 199.47,438.27 198.06,439.48 198.49,441.28 196.90,440.31 195.31,441.28 195.74,439.48 194.33,438.27 196.19,438.12" fill="#222"/>
<polygon points="202.10,436.40 202.81,438.12 204.67,438.27 203.26,439.48 203.69,441.28 202.10,440.31 200.51,441.28 200.94,439.48 199.53,438.27 201.39,438.12" fill="#222"/>
<path d="M211,436.6 L211,433.8 L232.7,433.8 L232.7,436.6" fill="none" stroke="#222" stroke-width="1.1"/>
<polygon points="221.85,426.90 222.56,428.62 224.42,428.77 223.01,429.98 223.44,431.78 221.85,430.81 220.26,431.78 220.69,429.98 219.28,428.77 221.14,428.62" fill="#222"/>
<text x="266.50" y="424.20" font-size="10.50" font-family='"Liberation Serif", serif' text-anchor="start" dominant-baseline="central" font-weight="normal" fill="#111" stroke="#111" stroke-width="0.12">J</text>
<line x1="302.10" y1="431.50" x2="302.10" y2="563.50" stroke="#444" stroke-width="1.1"/>
<line x1="301.60" y1="563.00" x2="387.00" y2="563.00" stroke="#444" stroke-width="1.1"/>
<line x1="300.30" y1="563.00" x2="302.10" y2="563.00" stroke="#444" stroke-width="0.9"/>
<text x="294.30" y="564.20" font-size="7.20" font-family='"Liberation Serif", serif' text-anchor="end" dominant-baseline="central" font-weight="normal" fill="#1a1a1a" stroke="#1a1a1a" stroke-width="0.12">0.00</text>
<line x1="300.30" y1="549.90" x2="302.10" y2="549.90" stroke="#444" stroke-width="0.9"/>
<text x="294.30" y="551.10" font-size="7.20" font-family='"Liberation Serif", serif' text-anchor="end" dominant-baseline="central" font-weight="normal" fill="#1a1a1a" stroke="#1a1a1a" stroke-width="0.12">5.00</text>
<line x1="300.30" y1="536.80" x2="302.10" y2="536.80" stroke="#444" stroke-width="0.9"/>
<text x="294.30" y="538.00" font-size="7.20" font-family='"Liberation Serif", serif' text-anchor="end" dominant-baseline="central" font-weight="normal" fill="#1a1a1a" stroke="#1a1a1a" stroke-width="0.12">10.00</text>
<line x1="300.30" y1="523.70" x2="302.10" y2="523.70" stroke="#444" stroke-width="0.9"/>
<text x="294.30" y="524.90" font-size="7.20" font-family='"Liberation Serif", serif' text-anchor="end" dominant-baseline="central" font-weight="normal" fill="#1a1a1a" stroke="#1a1a1a" stroke-width="0.12">15.00</text>
<line x1="300.30" y1="510.60" x2="302.10" y2="510.60" stroke="#444" stroke-width="0.9"/>
<text x="294.30" y="511.80" font-size="7.20" font-family='"Liberation Serif", serif' text-anchor="end" dominant-baseline="central" font-weight="normal" fill="#1a1a1a" stroke="#1a1a1a" stroke-width="0.12">20.00</text>
<line x1="300.30" y1="497.50" x2="302.10" y2="497.50" stroke="#444" stroke-width="0.9"/>
<text x="294.30" y="498.70" font-size="7.20" font-family='"Liberation Serif", serif' text-anchor="end" dominant-baseline="central" font-weight="normal" fill="#1a1a1a" stroke="#1a1a1a" stroke-width="0.12">25.00</text>
<line x1="300.30" y1="484.40" x2="302.10" y2="484.40" stroke="#444" stroke-width="0.9"/>
<text x="294.30" y="485.60" font-size="7.20" font-family='"Liberation Serif", serif' text-anchor="end" dominant-baseline="central" font-weight="normal" fill="#1a1a1a" stroke="#1a1a1a" stroke-width="0.12">30.00</text>
<line x1="300.30" y1="471.30" x2="302.10" y2="471.30" stroke="#444" stroke-width="0.9"/>
<text x="294.30" y="472.50" font-size="7.20" font-family='"Liberation Serif", serif' text-anchor="end" dominant-baseline="central" font-weight="normal" fill="#1a1a1a" stroke="#1a1a1a" stroke-width="0.12">35.00</text>
<line x1="300.30" y1="458.20" x2="302.10" y2="458.20" stroke="#444" stroke-width="0.9"/>
<text x="294.30" y="459.40" font-size="7.20" font-family='"Liberation Serif", serif' text-anchor="end" dominant-baseline="central" font-weight="normal" fill="#1a1a1a" stroke="#1a1a1a" stroke-width="0.12">40.00</text>
<line x1="300.30" y1="445.10" x2="302.10" y2="445.10" stroke="#444" stroke-width="0.9"/>
<text x="294.30" y="446.30" font-size="7.20" font-family='"Liberation Serif", serif' text-anchor="end" dominant-baseline="central" font-weight="normal" fill="#1a1a1a" stroke="#1a1a1a" stroke-width="0.12">45.00</text>
<line x1="300.30" y1="432.00" x2="302.10" y2="432.00" stroke="#444" stroke-width="0.9"/>
<text x="294.30" y="433.20" font-size="7.20" font-family='"Liberation Serif", serif' text-anchor="end" dominant-baseline="central" font-weight="normal" fill="#1a1a1a" stroke="#1a1a1a" stroke-width="0.12">50.00</text>
<rect x="316.30" y="449.55" width="18.90" height="113.45" fill="#fa7f25" stroke="#1a1a1a" stroke-width="0.9"/>
<line x1="325.75" y1="444.31" x2="325.75" y2="454.79" stroke="#444" stroke-width="0.8"/>
<line x1="324.55" y1="444.31" x2="326.95" y2="444.31" stroke="#444" stroke-width="0.8"/>
<line x1="324.55" y1="454.79" x2="326.95" y2="454.79" stroke="#444" stroke-width="0.8"/>
<rect x="335.20" y="481.26" width="18.90" height="81.74" fill="#03a0e6" stroke="#1a1a1a" stroke-width="0.9"/>
<line x1="344.65" y1="476.02" x2="344.65" y2="486.50" stroke="#444" stroke-width="0.8"/>
<line x1="343.45" y1="476.02" x2="345.85" y2="476.02" stroke="#444" stroke-width="0.8"/>
<line x1="343.45" y1="486.50" x2="345.85" y2="486.50" stroke="#444" stroke-width="0.8"/>
<rect x="354.10" y="457.68" width="18.90" height="105.32" fill="#000" stroke="#1a1a1a" stroke-width="0.9"/>
<line x1="363.55" y1="452.44" x2="363.55" y2="457.68" stroke="#444" stroke-width="0.8"/>
<line x1="362.35" y1="452.44" x2="364.75" y2="452.44" stroke="#444" stroke-width="0.8"/>
<text x="271.50" y="499.50" font-size="9.66" font-family='"Liberation Serif", serif' text-anchor="middle" dominant-baseline="central" font-weight="normal" fill="#222" stroke="#222" stroke-width="0.12" textLength="96.58" lengthAdjust="spacingAndGlyphs" transform="rotate(-90 271.5 499.5)">SOD activity level(U/mL)</text>
<path d="M325.2,441.0 L325.2,438.2 L348.4,438.2 L348.4,441.0" fill="none" stroke="#222" stroke-width="1.1"/>
<polygon points="334.20,431.30 334.91,433.02 336.77,433.17 335.36,434.38 335.79,436.18 334.20,435.21 332.61,436.18 333.04,434.38 331.63,433.17 333.49,433.02" fill="#222"/>
<polygon points="339.40,431.30 340.11,433.02 341.97,433.17 340.56,434.38 340.99,436.18 339.40,435.21 337.81,436.18 338.24,434.38 336.83,433.17 338.69,433.02" fill="#222"/>
<path d="M347.2,432.0 L347.2,429.2 L370.3,429.2 L370.3,432.0" fill="none" stroke="#222" stroke-width="1.1"/>
<polygon points="356.15,422.30 356.86,424.02 358.72,424.17 357.31,425.38 357.74,427.18 356.15,426.21 354.56,427.18 354.99,425.38 353.58,424.17 355.44,424.02" fill="#222"/>
<polygon points="361.35,422.30 362.06,424.02 363.92,424.17 362.51,425.38 362.94,427.18 361.35,426.21 359.76,427.18 360.19,425.38 358.78,424.17 360.64,424.02" fill="#222"/>
<text x="393.50" y="428.20" font-size="10.50" font-family='"Liberation Serif", serif' text-anchor="start" dominant-baseline="central" font-weight="normal" fill="#111" stroke="#111" stroke-width="0.12">K</text>
<line x1="427.40" y1="431.30" x2="427.40" y2="561.80" stroke="#444" stroke-width="1.1"/>
<line x1="426.90" y1="561.30" x2="513.00" y2="561.30" stroke="#444" stroke-width="1.1"/>
<line x1="425.60" y1="561.30" x2="427.40" y2="561.30" stroke="#444" stroke-width="0.9"/>
<text x="419.60" y="562.50" font-size="7.20" font-family='"Liberation Serif", serif' text-anchor="end" dominant-baseline="central" font-weight="normal" fill="#1a1a1a" stroke="#1a1a1a" stroke-width="0.12">0.00</text>
<line x1="425.60" y1="542.80" x2="427.40" y2="542.80" stroke="#444" stroke-width="0.9"/>
<text x="419.60" y="544.00" font-size="7.20" font-family='"Liberation Serif", serif' text-anchor="end" dominant-baseline="central" font-weight="normal" fill="#1a1a1a" stroke="#1a1a1a" stroke-width="0.12">0.50</text>
<line x1="425.60" y1="524.30" x2="427.40" y2="524.30" stroke="#444" stroke-width="0.9"/>
<text x="419.60" y="525.50" font-size="7.20" font-family='"Liberation Serif", serif' text-anchor="end" dominant-baseline="central" font-weight="normal" fill="#1a1a1a" stroke="#1a1a1a" stroke-width="0.12">1.00</text>
<line x1="425.60" y1="505.80" x2="427.40" y2="505.80" stroke="#444" stroke-width="0.9"/>
<text x="419.60" y="507.00" font-size="7.20" font-family='"Liberation Serif", serif' text-anchor="end" dominant-baseline="central" font-weight="normal" fill="#1a1a1a" stroke="#1a1a1a" stroke-width="0.12">1.50</text>
<line x1="425.60" y1="487.30" x2="427.40" y2="487.30" stroke="#444" stroke-width="0.9"/>
<text x="419.60" y="488.50" font-size="7.20" font-family='"Liberation Serif", serif' text-anchor="end" dominant-baseline="central" font-weight="normal" fill="#1a1a1a" stroke="#1a1a1a" stroke-width="0.12">2.00</text>
<line x1="425.60" y1="468.80" x2="427.40" y2="468.80" stroke="#444" stroke-width="0.9"/>
<text x="419.60" y="470.00" font-size="7.20" font-family='"Liberation Serif", serif' text-anchor="end" dominant-baseline="central" font-weight="normal" fill="#1a1a1a" stroke="#1a1a1a" stroke-width="0.12">2.50</text>
<line x1="425.60" y1="450.30" x2="427.40" y2="450.30" stroke="#444" stroke-width="0.9"/>
<text x="419.60" y="451.50" font-size="7.20" font-family='"Liberation Serif", serif' text-anchor="end" dominant-baseline="central" font-weight="normal" fill="#1a1a1a" stroke="#1a1a1a" stroke-width="0.12">3.00</text>
<line x1="425.60" y1="431.80" x2="427.40" y2="431.80" stroke="#444" stroke-width="0.9"/>
<text x="419.60" y="433.00" font-size="7.20" font-family='"Liberation Serif", serif' text-anchor="end" dominant-baseline="central" font-weight="normal" fill="#1a1a1a" stroke="#1a1a1a" stroke-width="0.12">3.50</text>
<rect x="441.50" y="474.72" width="19.90" height="86.58" fill="#fa7f25" stroke="#1a1a1a" stroke-width="0.9"/>
<line x1="451.45" y1="469.17" x2="451.45" y2="480.27" stroke="#444" stroke-width="0.8"/>
<line x1="450.25" y1="469.17" x2="452.65" y2="469.17" stroke="#444" stroke-width="0.8"/>
<line x1="450.25" y1="480.27" x2="452.65" y2="480.27" stroke="#444" stroke-width="0.8"/>
<rect x="461.40" y="447.34" width="19.90" height="113.96" fill="#03a0e6" stroke="#1a1a1a" stroke-width="0.9"/>
<line x1="471.35" y1="441.79" x2="471.35" y2="452.89" stroke="#444" stroke-width="0.8"/>
<line x1="470.15" y1="441.79" x2="472.55" y2="441.79" stroke="#444" stroke-width="0.8"/>
<line x1="470.15" y1="452.89" x2="472.55" y2="452.89" stroke="#444" stroke-width="0.8"/>
<rect x="481.30" y="469.91" width="19.90" height="91.39" fill="#000" stroke="#1a1a1a" stroke-width="0.9"/>
<line x1="491.25" y1="464.36" x2="491.25" y2="469.91" stroke="#444" stroke-width="0.8"/>
<line x1="490.05" y1="464.36" x2="492.45" y2="464.36" stroke="#444" stroke-width="0.8"/>
<text x="398.00" y="496.60" font-size="9.66" font-family='"Liberation Serif", serif' text-anchor="middle" dominant-baseline="central" font-weight="normal" fill="#222" stroke="#222" stroke-width="0.12" textLength="74.35" lengthAdjust="spacingAndGlyphs" transform="rotate(-90 398 496.6)">MDA level(nmol/L)</text>
<path d="M448.5,438.3 L448.5,435.5 L471.2,435.5 L471.2,438.3" fill="none" stroke="#222" stroke-width="1.1"/>
<polygon points="457.25,428.60 457.96,430.32 459.82,430.47 458.41,431.68 458.84,433.48 457.25,432.51 455.66,433.48 456.09,431.68 454.68,430.47 456.54,430.32" fill="#222"/>
<polygon points="462.45,428.60 463.16,430.32 465.02,430.47 463.61,431.68 464.04,433.48 462.45,432.51 460.86,433.48 461.29,431.68 459.88,430.47 461.74,430.32" fill="#222"/>
<path d="M470.2,428.8 L470.2,426 L493.5,426 L493.5,428.8" fill="none" stroke="#222" stroke-width="1.1"/>
<polygon points="479.25,419.10 479.96,420.82 481.82,420.97 480.41,422.18 480.84,423.98 479.25,423.01 477.66,423.98 478.09,422.18 476.68,420.97 478.54,420.82" fill="#222"/>
<polygon points="484.45,419.10 485.16,420.82 487.02,420.97 485.61,422.18 486.04,423.98 484.45,423.01 482.86,423.98 483.29,422.18 481.88,420.97 483.74,420.82" fill="#222"/>
</svg>
</body></html>
